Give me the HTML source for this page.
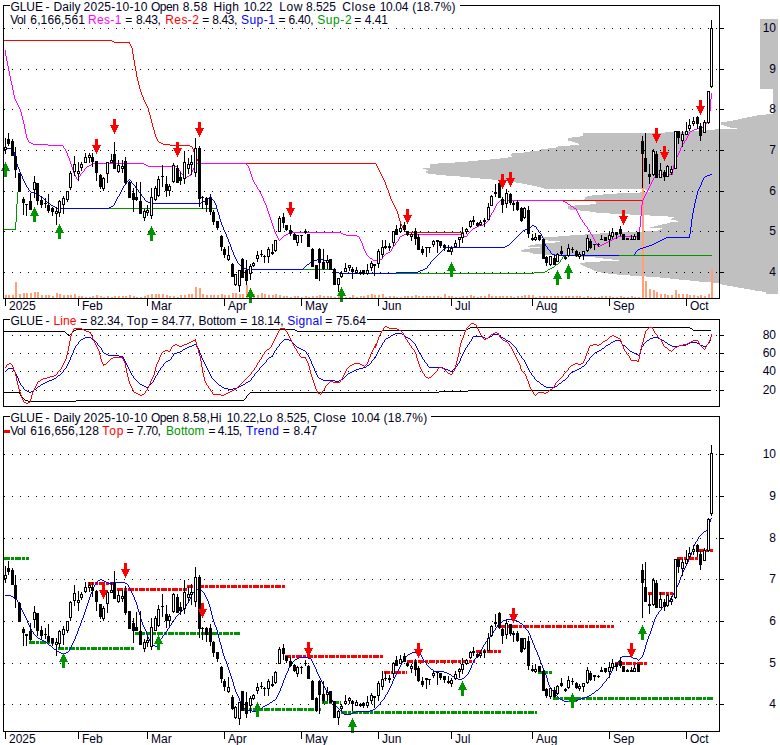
<!DOCTYPE html>
<html><head><meta charset="utf-8"><title>GLUE</title>
<style>html,body{margin:0;padding:0;background:#fff;}body{width:780px;height:745px;overflow:hidden;}svg{display:block;}text{font-family:"Liberation Sans",sans-serif;font-size:12px;fill:#00001c;}</style>
</head><body>
<svg width="780" height="745" viewBox="0 0 780 745">
<rect x="0" y="0" width="780" height="745" fill="#ffffff"/>
<g shape-rendering="crispEdges" fill="#c0c0c0">
<rect x="760" y="19" width="18" height="70"/>
<rect x="773" y="89" width="5" height="25"/>
<rect x="773" y="113" width="5" height="1"/>
<rect x="766" y="114" width="12" height="1"/>
<rect x="757" y="115" width="21" height="1"/>
<rect x="752" y="116" width="26" height="1"/>
<rect x="747" y="117" width="31" height="1"/>
<rect x="742" y="118" width="36" height="1"/>
<rect x="738" y="119" width="40" height="1"/>
<rect x="733" y="120" width="45" height="1"/>
<rect x="727" y="121" width="51" height="1"/>
<rect x="721" y="122" width="57" height="1"/>
<rect x="721" y="123" width="57" height="1"/>
<rect x="721" y="124" width="57" height="1"/>
<rect x="724" y="125" width="54" height="1"/>
<rect x="727" y="126" width="51" height="1"/>
<rect x="730" y="127" width="48" height="1"/>
<rect x="737" y="128" width="41" height="1"/>
<rect x="715" y="129" width="63" height="1"/>
<rect x="700" y="130" width="78" height="1"/>
<rect x="685" y="131" width="93" height="1"/>
<rect x="665" y="132" width="113" height="1"/>
<rect x="583" y="133" width="195" height="1"/>
<rect x="583" y="134" width="195" height="1"/>
<rect x="583" y="135" width="195" height="1"/>
<rect x="580" y="136" width="198" height="1"/>
<rect x="572" y="137" width="206" height="1"/>
<rect x="568" y="138" width="210" height="1"/>
<rect x="568" y="139" width="210" height="1"/>
<rect x="568" y="140" width="210" height="1"/>
<rect x="572" y="141" width="206" height="1"/>
<rect x="575" y="142" width="203" height="1"/>
<rect x="578" y="143" width="200" height="1"/>
<rect x="579" y="144" width="199" height="1"/>
<rect x="570" y="145" width="208" height="1"/>
<rect x="558" y="146" width="220" height="1"/>
<rect x="556" y="147" width="222" height="1"/>
<rect x="548" y="148" width="230" height="1"/>
<rect x="541" y="149" width="237" height="1"/>
<rect x="539" y="150" width="239" height="1"/>
<rect x="530" y="151" width="248" height="1"/>
<rect x="524" y="152" width="254" height="1"/>
<rect x="512" y="153" width="266" height="1"/>
<rect x="511" y="154" width="267" height="1"/>
<rect x="511" y="155" width="267" height="1"/>
<rect x="512" y="156" width="266" height="1"/>
<rect x="508" y="157" width="270" height="1"/>
<rect x="500" y="158" width="278" height="1"/>
<rect x="490" y="159" width="288" height="1"/>
<rect x="478" y="160" width="300" height="1"/>
<rect x="468" y="161" width="310" height="1"/>
<rect x="455" y="162" width="323" height="1"/>
<rect x="438" y="163" width="340" height="1"/>
<rect x="430" y="164" width="348" height="1"/>
<rect x="430" y="165" width="348" height="1"/>
<rect x="430" y="166" width="348" height="1"/>
<rect x="430" y="167" width="348" height="1"/>
<rect x="423" y="168" width="355" height="1"/>
<rect x="426" y="169" width="352" height="1"/>
<rect x="428" y="170" width="350" height="1"/>
<rect x="426" y="171" width="352" height="1"/>
<rect x="426" y="172" width="352" height="1"/>
<rect x="428" y="173" width="350" height="1"/>
<rect x="436" y="174" width="342" height="1"/>
<rect x="446" y="175" width="332" height="1"/>
<rect x="460" y="176" width="318" height="1"/>
<rect x="470" y="177" width="308" height="1"/>
<rect x="480" y="178" width="298" height="1"/>
<rect x="492" y="179" width="286" height="1"/>
<rect x="499" y="180" width="279" height="1"/>
<rect x="508" y="181" width="270" height="1"/>
<rect x="516" y="182" width="262" height="1"/>
<rect x="522" y="183" width="256" height="1"/>
<rect x="527" y="184" width="251" height="1"/>
<rect x="532" y="185" width="246" height="1"/>
<rect x="537" y="186" width="241" height="1"/>
<rect x="541" y="187" width="237" height="1"/>
<rect x="544" y="188" width="234" height="1"/>
<rect x="645" y="189" width="133" height="1"/>
<rect x="648" y="190" width="130" height="1"/>
<rect x="650" y="191" width="128" height="1"/>
<rect x="640" y="192" width="138" height="1"/>
<rect x="617" y="193" width="161" height="1"/>
<rect x="603" y="194" width="175" height="1"/>
<rect x="592" y="195" width="186" height="1"/>
<rect x="587" y="196" width="191" height="1"/>
<rect x="585" y="197" width="193" height="1"/>
<rect x="585" y="198" width="193" height="1"/>
<rect x="584" y="199" width="194" height="1"/>
<rect x="563" y="200" width="215" height="1"/>
<rect x="595" y="201" width="183" height="1"/>
<rect x="596" y="202" width="182" height="1"/>
<rect x="596" y="203" width="182" height="1"/>
<rect x="590" y="204" width="188" height="1"/>
<rect x="575" y="205" width="203" height="1"/>
<rect x="568" y="206" width="210" height="1"/>
<rect x="568" y="207" width="210" height="1"/>
<rect x="568" y="208" width="210" height="1"/>
<rect x="570" y="209" width="208" height="1"/>
<rect x="580" y="210" width="198" height="1"/>
<rect x="590" y="211" width="188" height="1"/>
<rect x="596" y="212" width="182" height="1"/>
<rect x="610" y="213" width="168" height="1"/>
<rect x="630" y="214" width="148" height="1"/>
<rect x="650" y="215" width="128" height="1"/>
<rect x="668" y="216" width="110" height="1"/>
<rect x="674" y="217" width="104" height="1"/>
<rect x="672" y="218" width="106" height="1"/>
<rect x="671" y="219" width="107" height="1"/>
<rect x="676" y="220" width="102" height="1"/>
<rect x="678" y="221" width="100" height="1"/>
<rect x="670" y="222" width="108" height="1"/>
<rect x="667" y="223" width="111" height="1"/>
<rect x="662" y="224" width="116" height="1"/>
<rect x="658" y="225" width="120" height="1"/>
<rect x="654" y="226" width="124" height="1"/>
<rect x="650" y="227" width="128" height="1"/>
<rect x="662" y="228" width="116" height="1"/>
<rect x="660" y="229" width="118" height="1"/>
<rect x="658" y="230" width="120" height="1"/>
<rect x="642" y="231" width="136" height="1"/>
<rect x="620" y="232" width="158" height="1"/>
<rect x="600" y="233" width="178" height="1"/>
<rect x="585" y="234" width="193" height="1"/>
<rect x="570" y="235" width="208" height="1"/>
<rect x="558" y="236" width="220" height="1"/>
<rect x="541" y="237" width="237" height="1"/>
<rect x="543" y="238" width="235" height="1"/>
<rect x="545" y="239" width="233" height="1"/>
<rect x="548" y="240" width="230" height="1"/>
<rect x="560" y="241" width="218" height="1"/>
<rect x="555" y="242" width="223" height="1"/>
<rect x="545" y="243" width="233" height="1"/>
<rect x="535" y="244" width="243" height="1"/>
<rect x="530" y="245" width="248" height="1"/>
<rect x="528" y="246" width="250" height="1"/>
<rect x="540" y="247" width="238" height="1"/>
<rect x="530" y="248" width="248" height="1"/>
<rect x="524" y="249" width="254" height="1"/>
<rect x="521" y="250" width="257" height="1"/>
<rect x="522" y="251" width="256" height="1"/>
<rect x="530" y="252" width="248" height="1"/>
<rect x="533" y="253" width="245" height="1"/>
<rect x="545" y="254" width="233" height="1"/>
<rect x="555" y="255" width="223" height="1"/>
<rect x="575" y="256" width="203" height="1"/>
<rect x="595" y="257" width="183" height="1"/>
<rect x="603" y="258" width="175" height="1"/>
<rect x="612" y="259" width="166" height="1"/>
<rect x="619" y="260" width="159" height="1"/>
<rect x="600" y="261" width="178" height="1"/>
<rect x="585" y="262" width="193" height="1"/>
<rect x="580" y="263" width="198" height="1"/>
<rect x="581" y="264" width="197" height="1"/>
<rect x="583" y="265" width="195" height="1"/>
<rect x="585" y="266" width="193" height="1"/>
<rect x="587" y="267" width="191" height="1"/>
<rect x="590" y="268" width="188" height="1"/>
<rect x="592" y="269" width="186" height="1"/>
<rect x="594" y="270" width="184" height="1"/>
<rect x="597" y="271" width="181" height="1"/>
<rect x="601" y="272" width="177" height="1"/>
<rect x="608" y="273" width="170" height="1"/>
<rect x="617" y="274" width="161" height="1"/>
<rect x="630" y="275" width="148" height="1"/>
<rect x="646" y="276" width="132" height="1"/>
<rect x="660" y="277" width="118" height="1"/>
<rect x="670" y="278" width="108" height="1"/>
<rect x="679" y="279" width="99" height="1"/>
<rect x="690" y="280" width="88" height="1"/>
<rect x="699" y="281" width="79" height="1"/>
<rect x="711" y="282" width="67" height="1"/>
<rect x="720" y="283" width="58" height="1"/>
<rect x="722" y="284" width="56" height="1"/>
<rect x="727" y="285" width="51" height="1"/>
<rect x="733" y="286" width="45" height="1"/>
<rect x="738" y="287" width="40" height="1"/>
<rect x="744" y="288" width="34" height="1"/>
<rect x="750" y="289" width="28" height="1"/>
<rect x="755" y="290" width="23" height="1"/>
<rect x="762" y="291" width="16" height="1"/>
<rect x="766" y="292" width="12" height="1"/>
<rect x="766" y="293" width="12" height="1"/>
</g>
<line x1="4" y1="28.5" x2="718" y2="28.5" stroke="#000" stroke-width="1" stroke-dasharray="1 7" shape-rendering="crispEdges"/>
<line x1="4" y1="69.5" x2="718" y2="69.5" stroke="#000" stroke-width="1" stroke-dasharray="1 7" shape-rendering="crispEdges"/>
<line x1="4" y1="109.5" x2="718" y2="109.5" stroke="#000" stroke-width="1" stroke-dasharray="1 7" shape-rendering="crispEdges"/>
<line x1="4" y1="150.5" x2="718" y2="150.5" stroke="#000" stroke-width="1" stroke-dasharray="1 7" shape-rendering="crispEdges"/>
<line x1="4" y1="191.5" x2="718" y2="191.5" stroke="#000" stroke-width="1" stroke-dasharray="1 7" shape-rendering="crispEdges"/>
<line x1="4" y1="231.5" x2="718" y2="231.5" stroke="#000" stroke-width="1" stroke-dasharray="1 7" shape-rendering="crispEdges"/>
<line x1="4" y1="272.5" x2="718" y2="272.5" stroke="#000" stroke-width="1" stroke-dasharray="1 7" shape-rendering="crispEdges"/>
<line x1="12" y1="335.5" x2="718" y2="335.5" stroke="#000" stroke-width="1" stroke-dasharray="1 7" shape-rendering="crispEdges"/>
<line x1="12" y1="353.5" x2="718" y2="353.5" stroke="#000" stroke-width="1" stroke-dasharray="1 7" shape-rendering="crispEdges"/>
<line x1="12" y1="371.5" x2="718" y2="371.5" stroke="#000" stroke-width="1" stroke-dasharray="1 7" shape-rendering="crispEdges"/>
<line x1="12" y1="390.5" x2="718" y2="390.5" stroke="#000" stroke-width="1" stroke-dasharray="1 7" shape-rendering="crispEdges"/>
<line x1="4" y1="454.5" x2="718" y2="454.5" stroke="#000" stroke-width="1" stroke-dasharray="1 7" shape-rendering="crispEdges"/>
<line x1="4" y1="496.5" x2="718" y2="496.5" stroke="#000" stroke-width="1" stroke-dasharray="1 7" shape-rendering="crispEdges"/>
<line x1="4" y1="538.5" x2="718" y2="538.5" stroke="#000" stroke-width="1" stroke-dasharray="1 7" shape-rendering="crispEdges"/>
<line x1="4" y1="579.5" x2="718" y2="579.5" stroke="#000" stroke-width="1" stroke-dasharray="1 7" shape-rendering="crispEdges"/>
<line x1="4" y1="621.5" x2="718" y2="621.5" stroke="#000" stroke-width="1" stroke-dasharray="1 7" shape-rendering="crispEdges"/>
<line x1="4" y1="663.5" x2="718" y2="663.5" stroke="#000" stroke-width="1" stroke-dasharray="1 7" shape-rendering="crispEdges"/>
<line x1="4" y1="704.5" x2="718" y2="704.5" stroke="#000" stroke-width="1" stroke-dasharray="1 7" shape-rendering="crispEdges"/>
<g shape-rendering="crispEdges" fill="#ffa07a">
<rect x="5" y="295" width="2" height="3"/>
<rect x="8" y="295" width="2" height="3"/>
<rect x="12" y="295" width="2" height="3"/>
<rect x="15" y="282" width="2" height="16"/>
<rect x="19" y="294" width="2" height="4"/>
<rect x="23" y="293" width="2" height="5"/>
<rect x="26" y="293" width="2" height="5"/>
<rect x="30" y="293" width="2" height="5"/>
<rect x="34" y="292" width="2" height="6"/>
<rect x="37" y="292" width="2" height="6"/>
<rect x="41" y="295" width="2" height="3"/>
<rect x="45" y="295" width="2" height="3"/>
<rect x="48" y="295" width="2" height="3"/>
<rect x="52" y="296" width="2" height="2"/>
<rect x="56" y="293" width="2" height="5"/>
<rect x="59" y="294" width="2" height="4"/>
<rect x="63" y="295" width="2" height="3"/>
<rect x="67" y="295" width="2" height="3"/>
<rect x="70" y="295" width="2" height="3"/>
<rect x="74" y="294" width="2" height="4"/>
<rect x="78" y="296" width="2" height="2"/>
<rect x="81" y="296" width="2" height="2"/>
<rect x="85" y="297" width="2" height="1"/>
<rect x="89" y="297" width="2" height="1"/>
<rect x="92" y="296" width="2" height="2"/>
<rect x="96" y="295" width="2" height="3"/>
<rect x="100" y="296" width="2" height="2"/>
<rect x="103" y="297" width="2" height="1"/>
<rect x="107" y="296" width="2" height="2"/>
<rect x="111" y="297" width="2" height="1"/>
<rect x="114" y="296" width="2" height="2"/>
<rect x="118" y="296" width="2" height="2"/>
<rect x="122" y="296" width="2" height="2"/>
<rect x="125" y="296" width="2" height="2"/>
<rect x="129" y="295" width="2" height="3"/>
<rect x="133" y="296" width="2" height="2"/>
<rect x="136" y="297" width="2" height="1"/>
<rect x="140" y="297" width="2" height="1"/>
<rect x="144" y="296" width="2" height="2"/>
<rect x="147" y="295" width="2" height="3"/>
<rect x="151" y="294" width="2" height="4"/>
<rect x="155" y="294" width="2" height="4"/>
<rect x="158" y="294" width="2" height="4"/>
<rect x="162" y="294" width="2" height="4"/>
<rect x="166" y="295" width="2" height="3"/>
<rect x="169" y="296" width="2" height="2"/>
<rect x="173" y="296" width="2" height="2"/>
<rect x="177" y="297" width="2" height="1"/>
<rect x="180" y="295" width="2" height="3"/>
<rect x="184" y="295" width="2" height="3"/>
<rect x="188" y="294" width="2" height="4"/>
<rect x="191" y="294" width="2" height="4"/>
<rect x="195" y="287" width="2" height="11"/>
<rect x="199" y="288" width="2" height="10"/>
<rect x="202" y="294" width="2" height="4"/>
<rect x="206" y="295" width="2" height="3"/>
<rect x="210" y="295" width="2" height="3"/>
<rect x="213" y="295" width="2" height="3"/>
<rect x="217" y="295" width="2" height="3"/>
<rect x="221" y="294" width="2" height="4"/>
<rect x="224" y="295" width="2" height="3"/>
<rect x="228" y="295" width="2" height="3"/>
<rect x="232" y="293" width="2" height="5"/>
<rect x="235" y="293" width="2" height="5"/>
<rect x="239" y="294" width="2" height="4"/>
<rect x="242" y="294" width="2" height="4"/>
<rect x="246" y="285" width="2" height="13"/>
<rect x="250" y="293" width="2" height="5"/>
<rect x="253" y="294" width="2" height="4"/>
<rect x="257" y="295" width="2" height="3"/>
<rect x="261" y="293" width="2" height="5"/>
<rect x="264" y="294" width="2" height="4"/>
<rect x="268" y="295" width="2" height="3"/>
<rect x="272" y="295" width="2" height="3"/>
<rect x="275" y="294" width="2" height="4"/>
<rect x="279" y="295" width="2" height="3"/>
<rect x="283" y="296" width="2" height="2"/>
<rect x="286" y="296" width="2" height="2"/>
<rect x="290" y="297" width="2" height="1"/>
<rect x="294" y="296" width="2" height="2"/>
<rect x="297" y="296" width="2" height="2"/>
<rect x="301" y="297" width="2" height="1"/>
<rect x="305" y="296" width="2" height="2"/>
<rect x="308" y="297" width="2" height="1"/>
<rect x="312" y="296" width="2" height="2"/>
<rect x="316" y="296" width="2" height="2"/>
<rect x="319" y="295" width="2" height="3"/>
<rect x="323" y="296" width="2" height="2"/>
<rect x="327" y="296" width="2" height="2"/>
<rect x="330" y="296" width="2" height="2"/>
<rect x="334" y="297" width="2" height="1"/>
<rect x="338" y="296" width="2" height="2"/>
<rect x="341" y="296" width="2" height="2"/>
<rect x="345" y="297" width="2" height="1"/>
<rect x="349" y="297" width="2" height="1"/>
<rect x="352" y="295" width="2" height="3"/>
<rect x="356" y="297" width="2" height="1"/>
<rect x="360" y="296" width="2" height="2"/>
<rect x="363" y="296" width="2" height="2"/>
<rect x="367" y="295" width="2" height="3"/>
<rect x="371" y="294" width="2" height="4"/>
<rect x="374" y="295" width="2" height="3"/>
<rect x="378" y="295" width="2" height="3"/>
<rect x="382" y="294" width="2" height="4"/>
<rect x="385" y="297" width="2" height="1"/>
<rect x="389" y="296" width="2" height="2"/>
<rect x="393" y="296" width="2" height="2"/>
<rect x="396" y="297" width="2" height="1"/>
<rect x="400" y="297" width="2" height="1"/>
<rect x="404" y="296" width="2" height="2"/>
<rect x="407" y="296" width="2" height="2"/>
<rect x="411" y="296" width="2" height="2"/>
<rect x="415" y="295" width="2" height="3"/>
<rect x="418" y="296" width="2" height="2"/>
<rect x="422" y="296" width="2" height="2"/>
<rect x="426" y="296" width="2" height="2"/>
<rect x="429" y="296" width="2" height="2"/>
<rect x="433" y="296" width="2" height="2"/>
<rect x="437" y="296" width="2" height="2"/>
<rect x="440" y="297" width="2" height="1"/>
<rect x="444" y="294" width="2" height="4"/>
<rect x="448" y="296" width="2" height="2"/>
<rect x="451" y="296" width="2" height="2"/>
<rect x="455" y="297" width="2" height="1"/>
<rect x="459" y="297" width="2" height="1"/>
<rect x="462" y="296" width="2" height="2"/>
<rect x="466" y="296" width="2" height="2"/>
<rect x="470" y="295" width="2" height="3"/>
<rect x="473" y="296" width="2" height="2"/>
<rect x="477" y="297" width="2" height="1"/>
<rect x="480" y="296" width="2" height="2"/>
<rect x="484" y="296" width="2" height="2"/>
<rect x="488" y="294" width="2" height="4"/>
<rect x="491" y="296" width="2" height="2"/>
<rect x="495" y="296" width="2" height="2"/>
<rect x="499" y="296" width="2" height="2"/>
<rect x="502" y="296" width="2" height="2"/>
<rect x="506" y="296" width="2" height="2"/>
<rect x="510" y="296" width="2" height="2"/>
<rect x="513" y="297" width="2" height="1"/>
<rect x="517" y="296" width="2" height="2"/>
<rect x="521" y="296" width="2" height="2"/>
<rect x="524" y="295" width="2" height="3"/>
<rect x="528" y="295" width="2" height="3"/>
<rect x="532" y="295" width="2" height="3"/>
<rect x="535" y="297" width="2" height="1"/>
<rect x="539" y="296" width="2" height="2"/>
<rect x="543" y="296" width="2" height="2"/>
<rect x="546" y="296" width="2" height="2"/>
<rect x="550" y="296" width="2" height="2"/>
<rect x="554" y="296" width="2" height="2"/>
<rect x="557" y="296" width="2" height="2"/>
<rect x="561" y="296" width="2" height="2"/>
<rect x="565" y="296" width="2" height="2"/>
<rect x="568" y="296" width="2" height="2"/>
<rect x="572" y="296" width="2" height="2"/>
<rect x="576" y="296" width="2" height="2"/>
<rect x="579" y="296" width="2" height="2"/>
<rect x="583" y="297" width="2" height="1"/>
<rect x="587" y="296" width="2" height="2"/>
<rect x="590" y="297" width="2" height="1"/>
<rect x="594" y="297" width="2" height="1"/>
<rect x="598" y="297" width="2" height="1"/>
<rect x="601" y="296" width="2" height="2"/>
<rect x="605" y="296" width="2" height="2"/>
<rect x="609" y="296" width="2" height="2"/>
<rect x="612" y="297" width="2" height="1"/>
<rect x="616" y="297" width="2" height="1"/>
<rect x="620" y="296" width="2" height="2"/>
<rect x="623" y="297" width="2" height="1"/>
<rect x="627" y="297" width="2" height="1"/>
<rect x="631" y="296" width="2" height="2"/>
<rect x="634" y="297" width="2" height="1"/>
<rect x="638" y="297" width="2" height="1"/>
<rect x="642" y="151" width="2" height="147"/>
<rect x="645" y="281" width="2" height="17"/>
<rect x="649" y="289" width="2" height="9"/>
<rect x="653" y="290" width="2" height="8"/>
<rect x="656" y="292" width="2" height="6"/>
<rect x="660" y="294" width="2" height="4"/>
<rect x="664" y="294" width="2" height="4"/>
<rect x="667" y="295" width="2" height="3"/>
<rect x="671" y="295" width="2" height="3"/>
<rect x="675" y="290" width="2" height="8"/>
<rect x="678" y="294" width="2" height="4"/>
<rect x="682" y="294" width="2" height="4"/>
<rect x="686" y="294" width="2" height="4"/>
<rect x="689" y="295" width="2" height="3"/>
<rect x="693" y="295" width="2" height="3"/>
<rect x="697" y="296" width="2" height="2"/>
<rect x="700" y="295" width="2" height="3"/>
<rect x="704" y="296" width="2" height="2"/>
<rect x="708" y="294" width="2" height="4"/>
<rect x="711" y="269" width="2" height="29"/>
</g>
<path d="M4 229h12v1h-12zM16 204h1v18h-1zM15 222h1v7h-1zM17 192h1v12h-1zM18 190h1v2h-1z" fill="#009400" shape-rendering="crispEdges"/>
<path d="M60 208h156v1h-156z" fill="#009400" shape-rendering="crispEdges"/>
<path d="M565 255h147v1h-147zM339 273h195v1h-195zM300 269h34v1h-34zM548 269h2v1h-2zM545 271h2v1h-2zM550 268h2v1h-2zM336 272h3v1h-3zM534 272h11v1h-11zM556 264h2v1h-2zM552 267h2v1h-2zM563 256h2v1h-2zM547 270h1v1h-1zM560 260h1v2h-1zM562 257h1v2h-1zM334 270h1v1h-1zM558 263h1v1h-1zM335 271h1v1h-1zM555 265h1v1h-1zM554 266h1v1h-1zM559 262h1v1h-1zM561 259h1v1h-1z" fill="#009400" shape-rendering="crispEdges"/>
<path d="M159 142h2v1h-2zM199 163h177v1h-177zM408 232h56v1h-56zM4 40h108v1h-108zM114 42h16v1h-16zM170 145h20v1h-20zM163 144h7v1h-7zM112 41h2v1h-2zM405 231h3v1h-3zM161 143h2v1h-2zM190 146h2v1h-2zM129 43h1v1h-1zM402 226h1v2h-1zM133 54h1v6h-1zM197 159h1v2h-1zM132 48h1v6h-1zM143 97h1v3h-1zM140 89h1v3h-1zM400 221h1v3h-1zM195 155h1v2h-1zM384 180h1v2h-1zM130 44h1v2h-1zM149 112h1v3h-1zM134 60h1v6h-1zM386 185h1v3h-1zM392 201h1v2h-1zM192 147h1v2h-1zM135 66h1v5h-1zM153 127h1v3h-1zM398 214h1v4h-1zM395 207h1v2h-1zM150 115h1v4h-1zM377 166h1v2h-1zM136 71h1v6h-1zM198 161h1v2h-1zM393 203h1v2h-1zM139 85h1v4h-1zM131 46h1v2h-1zM193 149h1v3h-1zM147 106h1v2h-1zM157 139h1v2h-1zM154 130h1v4h-1zM152 123h1v4h-1zM378 168h1v2h-1zM196 157h1v2h-1zM390 196h1v3h-1zM148 108h1v4h-1zM145 102h1v2h-1zM155 134h1v3h-1zM382 176h1v2h-1zM394 205h1v2h-1zM385 182h1v3h-1zM138 81h1v4h-1zM376 164h1v2h-1zM380 172h1v2h-1zM146 104h1v2h-1zM194 152h1v3h-1zM383 178h1v2h-1zM389 193h1v3h-1zM141 92h1v3h-1zM391 199h1v2h-1zM403 228h1v2h-1zM151 119h1v4h-1zM401 224h1v2h-1zM404 230h1v1h-1zM387 188h1v2h-1zM399 218h1v3h-1zM156 137h1v2h-1zM396 209h1v2h-1zM137 77h1v4h-1zM142 95h1v2h-1zM144 100h1v2h-1zM381 174h1v2h-1zM388 190h1v3h-1zM397 211h1v3h-1zM379 170h1v2h-1zM158 141h1v1h-1z" fill="#ff0000" shape-rendering="crispEdges"/>
<path d="M563 200h80v1h-80z" fill="#ff0000" shape-rendering="crispEdges"/>
<path d="M41 197h2v1h-2zM246 269h57v1h-57zM423 269h2v1h-2zM339 273h57v1h-57zM555 255h64v1h-64zM446 247h59v1h-59zM150 203h51v1h-51zM146 201h2v1h-2zM203 201h2v1h-2zM57 208h52v1h-52zM532 225h2v1h-2zM311 261h2v1h-2zM326 261h2v1h-2zM418 271h2v1h-2zM37 194h2v1h-2zM317 259h6v1h-6zM47 202h2v1h-2zM148 202h2v1h-2zM201 202h2v1h-2zM307 264h2v1h-2zM529 227h2v1h-2zM336 272h3v1h-3zM396 272h22v1h-22zM333 270h2v1h-2zM420 270h3v1h-3zM207 198h2v1h-2zM31 192h3v1h-3zM243 268h3v1h-3zM425 268h2v1h-2zM313 260h4v1h-4zM323 260h3v1h-3zM55 207h2v1h-2zM109 207h2v1h-2zM34 193h3v1h-3zM505 246h2v1h-2zM53 206h2v1h-2zM111 206h2v1h-2zM552 254h3v1h-3zM444 248h2v1h-2zM4 148h9v1h-9zM51 205h2v1h-2zM527 228h2v1h-2zM534 226h2v1h-2zM523 230h2v1h-2zM507 245h2v1h-2zM525 229h2v1h-2zM540 233h1v1h-1zM120 192h1v2h-1zM547 247h1v2h-1zM143 197h1v1h-1zM15 156h1v4h-1zM210 196h1v1h-1zM241 266h1v1h-1zM27 187h1v1h-1zM427 266h1v2h-1zM541 234h1v2h-1zM205 200h1v1h-1zM225 232h1v2h-1zM46 201h1v1h-1zM237 261h1v2h-1zM211 197h1v2h-1zM21 174h1v2h-1zM23 179h1v2h-1zM40 196h1v1h-1zM231 247h1v3h-1zM238 263h1v1h-1zM135 186h1v2h-1zM439 253h1v1h-1zM216 205h1v4h-1zM126 182h1v2h-1zM144 198h1v2h-1zM28 188h1v2h-1zM531 226h1v1h-1zM517 236h1v1h-1zM131 181h1v2h-1zM116 199h1v2h-1zM14 152h1v4h-1zM122 188h1v2h-1zM437 255h1v1h-1zM123 186h1v2h-1zM544 240h1v4h-1zM121 190h1v2h-1zM221 222h1v3h-1zM234 255h1v2h-1zM538 230h1v2h-1zM223 227h1v3h-1zM330 265h1v2h-1zM515 238h1v1h-1zM115 201h1v2h-1zM235 257h1v2h-1zM220 219h1v3h-1zM141 194h1v2h-1zM19 169h1v3h-1zM16 160h1v4h-1zM218 212h1v3h-1zM545 244h1v2h-1zM542 236h1v2h-1zM546 246h1v1h-1zM49 203h1v1h-1zM114 203h1v2h-1zM230 244h1v3h-1zM133 184h1v1h-1zM232 250h1v2h-1zM119 194h1v2h-1zM142 196h1v1h-1zM304 267h1v1h-1zM513 240h1v1h-1zM117 197h1v2h-1zM219 215h1v4h-1zM305 266h1v1h-1zM433 259h1v1h-1zM214 201h1v2h-1zM20 172h1v2h-1zM209 197h1v1h-1zM511 242h1v1h-1zM303 268h1v1h-1zM26 185h1v2h-1zM429 264h1v1h-1zM431 261h1v1h-1zM430 262h1v2h-1zM224 230h1v2h-1zM13 150h1v2h-1zM242 267h1v1h-1zM236 259h1v2h-1zM134 185h1v1h-1zM536 227h1v2h-1zM226 234h1v3h-1zM217 209h1v3h-1zM228 239h1v3h-1zM428 265h1v1h-1zM30 191h1v1h-1zM331 267h1v2h-1zM24 181h1v2h-1zM215 203h1v2h-1zM332 269h1v1h-1zM139 192h1v1h-1zM124 185h1v1h-1zM125 184h1v1h-1zM127 181h1v1h-1zM537 229h1v1h-1zM222 225h1v2h-1zM329 263h1v2h-1zM140 193h1v1h-1zM18 167h1v2h-1zM514 239h1v1h-1zM521 232h1v1h-1zM22 176h1v3h-1zM434 258h1v1h-1zM543 238h1v2h-1zM442 250h1v1h-1zM512 241h1v1h-1zM229 242h1v2h-1zM309 263h1v1h-1zM519 234h1v1h-1zM520 233h1v1h-1zM432 260h1v1h-1zM50 204h1v1h-1zM440 252h1v1h-1zM43 198h1v1h-1zM25 183h1v2h-1zM550 251h1v2h-1zM233 252h1v3h-1zM113 205h1v1h-1zM17 164h1v3h-1zM129 179h1v1h-1zM138 190h1v2h-1zM12 149h1v1h-1zM509 244h1v1h-1zM44 199h1v1h-1zM227 237h1v2h-1zM128 180h1v1h-1zM551 253h1v1h-1zM328 262h1v1h-1zM130 180h1v1h-1zM118 196h1v1h-1zM206 199h1v1h-1zM522 231h1v1h-1zM443 249h1v1h-1zM548 249h1v1h-1zM441 251h1v1h-1zM212 199h1v1h-1zM136 188h1v1h-1zM145 200h1v1h-1zM29 190h1v1h-1zM549 250h1v1h-1zM510 243h1v1h-1zM518 235h1v1h-1zM213 200h1v1h-1zM438 254h1v1h-1zM335 271h1v1h-1zM239 264h1v1h-1zM137 189h1v1h-1zM516 237h1v1h-1zM436 256h1v1h-1zM240 265h1v1h-1zM306 265h1v1h-1zM45 200h1v1h-1zM132 183h1v1h-1zM435 257h1v1h-1zM539 232h1v1h-1zM310 262h1v1h-1zM39 195h1v1h-1z" fill="#0000ff" shape-rendering="crispEdges"/>
<path d="M707 175h3v1h-3zM666 237h24v1h-24zM705 176h2v1h-2zM652 244h2v1h-2zM710 174h2v1h-2zM643 247h3v1h-3zM646 246h3v1h-3zM654 243h2v1h-2zM664 238h2v1h-2zM662 239h2v1h-2zM638 249h2v1h-2zM640 248h3v1h-3zM649 245h3v1h-3zM658 241h2v1h-2zM660 240h2v1h-2zM656 242h2v1h-2zM696 195h1v4h-1zM691 219h1v8h-1zM695 199h1v4h-1zM689 234h1v3h-1zM690 227h1v7h-1zM693 208h1v5h-1zM697 191h1v4h-1zM694 203h1v5h-1zM692 213h1v6h-1zM701 182h1v3h-1zM635 252h1v2h-1zM637 250h1v1h-1zM636 251h1v1h-1zM702 180h1v2h-1zM699 187h1v2h-1zM698 189h1v2h-1zM634 254h1v1h-1zM703 178h1v2h-1zM700 185h1v2h-1zM704 177h1v1h-1z" fill="#0000ff" shape-rendering="crispEdges"/>
<path d="M288 233h2v1h-2zM341 233h2v1h-2zM614 238h2v1h-2zM93 163h51v1h-51zM196 163h50v1h-50zM286 234h2v1h-2zM343 234h3v1h-3zM404 234h58v1h-58zM616 237h2v1h-2zM290 232h51v1h-51zM500 200h63v1h-63zM91 164h2v1h-2zM144 164h2v1h-2zM33 144h15v1h-15zM189 175h2v1h-2zM87 166h2v1h-2zM148 166h29v1h-29zM568 204h2v1h-2zM48 145h15v1h-15zM697 128h5v1h-5zM357 236h2v1h-2zM400 236h2v1h-2zM464 236h3v1h-3zM618 236h21v1h-21zM373 260h6v1h-6zM483 224h2v1h-2zM388 252h2v1h-2zM657 174h16v1h-16zM284 235h2v1h-2zM346 235h11v1h-11zM402 235h2v1h-2zM462 235h2v1h-2zM612 239h2v1h-2zM574 208h2v1h-2zM608 241h2v1h-2zM694 129h3v1h-3zM571 206h2v1h-2zM690 131h2v1h-2zM602 244h2v1h-2zM89 165h2v1h-2zM146 165h2v1h-2zM477 226h2v1h-2zM187 176h2v1h-2zM604 243h2v1h-2zM565 202h2v1h-2zM473 228h2v1h-2zM29 142h2v1h-2zM563 201h2v1h-2zM479 225h4v1h-4zM31 143h2v1h-2zM386 253h2v1h-2zM379 259h3v1h-3zM600 245h2v1h-2zM692 130h2v1h-2zM606 242h2v1h-2zM610 240h2v1h-2zM185 177h2v1h-2zM475 227h2v1h-2zM370 258h2v1h-2zM598 246h2v1h-2zM23 120h1v4h-1zM583 222h1v1h-1zM281 238h1v1h-1zM16 101h1v2h-1zM639 227h1v7h-1zM271 220h1v3h-1zM9 71h1v5h-1zM576 209h1v2h-1zM6 56h1v5h-1zM472 229h1v1h-1zM246 164h1v1h-1zM675 160h1v2h-1zM656 175h1v1h-1zM640 216h1v11h-1zM256 185h1v2h-1zM496 204h1v2h-1zM391 249h1v2h-1zM177 167h1v2h-1zM257 187h1v2h-1zM680 148h1v3h-1zM260 192h1v2h-1zM648 188h1v2h-1zM13 90h1v5h-1zM384 255h1v1h-1zM364 249h1v2h-1zM253 180h1v2h-1zM674 162h1v3h-1zM192 170h1v2h-1zM274 229h1v3h-1zM70 161h1v3h-1zM578 213h1v2h-1zM26 134h1v4h-1zM495 206h1v2h-1zM267 208h1v3h-1zM19 107h1v2h-1zM487 221h1v1h-1zM676 157h1v3h-1zM579 215h1v2h-1zM12 85h1v5h-1zM82 172h1v1h-1zM711 93h1v6h-1zM582 220h1v2h-1zM249 168h1v3h-1zM270 217h1v3h-1zM191 172h1v2h-1zM5 50h1v6h-1zM74 173h1v2h-1zM263 198h1v3h-1zM491 213h1v2h-1zM710 99h1v12h-1zM570 205h1v1h-1zM368 256h1v1h-1zM181 173h1v1h-1zM707 121h1v1h-1zM467 234h1v2h-1zM596 243h1v2h-1zM85 168h1v1h-1zM577 211h1v2h-1zM15 99h1v2h-1zM18 105h1v2h-1zM8 66h1v5h-1zM652 180h1v2h-1zM11 81h1v4h-1zM390 251h1v1h-1zM586 226h1v1h-1zM248 166h1v2h-1zM399 237h1v2h-1zM643 198h1v2h-1zM259 190h1v2h-1zM73 170h1v3h-1zM262 196h1v2h-1zM25 129h1v5h-1zM22 116h1v4h-1zM682 144h1v2h-1zM180 171h1v2h-1zM255 184h1v1h-1zM494 208h1v2h-1zM252 177h1v3h-1zM28 140h1v2h-1zM642 200h1v5h-1zM273 226h1v3h-1zM266 205h1v3h-1zM581 219h1v1h-1zM195 164h1v2h-1zM584 223h1v2h-1zM498 202h1v1h-1zM647 190h1v2h-1zM702 127h1v1h-1zM14 95h1v4h-1zM585 225h1v1h-1zM490 215h1v2h-1zM471 230h1v1h-1zM641 205h1v11h-1zM67 153h1v3h-1zM673 165h1v5h-1zM567 203h1v1h-1zM709 111h1v8h-1zM21 112h1v4h-1zM269 214h1v3h-1zM179 170h1v1h-1zM363 246h1v3h-1zM7 61h1v5h-1zM595 241h1v2h-1zM398 239h1v2h-1zM580 217h1v2h-1zM689 132h1v2h-1zM69 158h1v3h-1zM655 176h1v1h-1zM592 235h1v2h-1zM360 239h1v2h-1zM685 140h1v1h-1zM653 178h1v2h-1zM194 166h1v2h-1zM646 192h1v2h-1zM251 174h1v3h-1zM681 146h1v2h-1zM594 239h1v2h-1zM280 239h1v1h-1zM24 124h1v5h-1zM17 103h1v2h-1zM587 227h1v2h-1zM190 174h1v1h-1zM68 156h1v2h-1zM265 203h1v2h-1zM247 165h1v1h-1zM588 229h1v1h-1zM393 246h1v1h-1zM672 170h1v4h-1zM72 167h1v3h-1zM84 169h1v2h-1zM704 125h1v1h-1zM182 174h1v1h-1zM27 138h1v2h-1zM79 176h1v1h-1zM10 76h1v5h-1zM590 232h1v2h-1zM362 243h1v3h-1zM591 234h1v1h-1zM272 223h1v3h-1zM684 141h1v2h-1zM396 242h1v1h-1zM493 210h1v2h-1zM688 134h1v2h-1zM268 211h1v3h-1zM489 217h1v2h-1zM597 245h1v1h-1zM264 201h1v2h-1zM679 151h1v2h-1zM193 168h1v2h-1zM250 171h1v3h-1zM645 194h1v2h-1zM282 237h1v1h-1zM65 149h1v2h-1zM78 177h1v2h-1zM366 253h1v2h-1zM71 164h1v3h-1zM20 109h1v3h-1zM392 247h1v2h-1zM593 237h1v2h-1zM361 241h1v2h-1zM395 243h1v2h-1zM589 230h1v2h-1zM687 136h1v2h-1zM468 233h1v1h-1zM383 256h1v1h-1zM703 126h1v1h-1zM278 238h1v2h-1zM651 182h1v2h-1zM64 148h1v1h-1zM365 251h1v2h-1zM706 122h1v2h-1zM638 234h1v2h-1zM86 167h1v1h-1zM63 146h1v2h-1zM486 222h1v1h-1zM678 153h1v2h-1zM277 236h1v2h-1zM81 173h1v1h-1zM683 143h1v1h-1zM686 138h1v2h-1zM184 176h1v1h-1zM66 151h1v2h-1zM183 175h1v1h-1zM573 207h1v1h-1zM382 257h1v2h-1zM385 254h1v1h-1zM650 184h1v2h-1zM359 237h1v2h-1zM76 177h1v2h-1zM77 179h1v1h-1zM80 174h1v2h-1zM394 245h1v1h-1zM470 231h1v1h-1zM367 255h1v1h-1zM497 203h1v1h-1zM654 177h1v1h-1zM705 124h1v1h-1zM677 155h1v2h-1zM276 234h1v2h-1zM279 240h1v1h-1zM397 241h1v1h-1zM649 186h1v2h-1zM708 119h1v2h-1zM488 219h1v2h-1zM83 171h1v1h-1zM75 175h1v2h-1zM261 194h1v2h-1zM254 182h1v2h-1zM485 223h1v1h-1zM275 232h1v2h-1zM644 196h1v2h-1zM258 189h1v1h-1zM492 212h1v1h-1zM499 201h1v1h-1zM178 169h1v1h-1zM469 232h1v1h-1zM283 236h1v1h-1zM369 257h1v1h-1zM372 259h1v1h-1z" fill="#ff00ff" shape-rendering="crispEdges"/>
<g shape-rendering="crispEdges">
<rect x="5" y="138" width="1" height="16" fill="#000"/>
<rect x="4" y="147" width="3" height="3" fill="#000"/>
<rect x="5" y="148" width="1" height="1" fill="#fff"/>
<rect x="8" y="133" width="1" height="13" fill="#000"/>
<rect x="7" y="139" width="3" height="5" fill="#000"/>
<rect x="12" y="139" width="1" height="17" fill="#000"/>
<rect x="11" y="141" width="3" height="15" fill="#000"/>
<rect x="15" y="147" width="1" height="31" fill="#000"/>
<rect x="14" y="156" width="3" height="14" fill="#000"/>
<rect x="19" y="173" width="1" height="19" fill="#000"/>
<rect x="18" y="173" width="3" height="19" fill="#000"/>
<rect x="23" y="197" width="1" height="18" fill="#000"/>
<rect x="22" y="199" width="3" height="4" fill="#000"/>
<rect x="26" y="204" width="1" height="12" fill="#000"/>
<rect x="25" y="204" width="3" height="1" fill="#000"/>
<rect x="30" y="193" width="1" height="17" fill="#000"/>
<rect x="29" y="201" width="3" height="9" fill="#000"/>
<rect x="34" y="176" width="1" height="22" fill="#000"/>
<rect x="33" y="182" width="3" height="8" fill="#000"/>
<rect x="34" y="183" width="1" height="6" fill="#fff"/>
<rect x="37" y="183" width="1" height="22" fill="#000"/>
<rect x="36" y="183" width="3" height="18" fill="#000"/>
<rect x="41" y="196" width="1" height="12" fill="#000"/>
<rect x="40" y="200" width="3" height="5" fill="#000"/>
<rect x="45" y="198" width="1" height="10" fill="#000"/>
<rect x="44" y="203" width="3" height="1" fill="#000"/>
<rect x="48" y="194" width="1" height="19" fill="#000"/>
<rect x="47" y="205" width="3" height="6" fill="#000"/>
<rect x="52" y="207" width="1" height="9" fill="#000"/>
<rect x="51" y="208" width="3" height="4" fill="#000"/>
<rect x="56" y="207" width="1" height="18" fill="#000"/>
<rect x="55" y="211" width="3" height="3" fill="#000"/>
<rect x="56" y="212" width="1" height="1" fill="#fff"/>
<rect x="59" y="200" width="1" height="17" fill="#000"/>
<rect x="58" y="201" width="3" height="12" fill="#000"/>
<rect x="59" y="202" width="1" height="10" fill="#fff"/>
<rect x="63" y="196" width="1" height="18" fill="#000"/>
<rect x="62" y="198" width="3" height="7" fill="#000"/>
<rect x="63" y="199" width="1" height="5" fill="#fff"/>
<rect x="67" y="191" width="1" height="11" fill="#000"/>
<rect x="66" y="191" width="3" height="9" fill="#000"/>
<rect x="67" y="192" width="1" height="7" fill="#fff"/>
<rect x="70" y="171" width="1" height="19" fill="#000"/>
<rect x="69" y="173" width="3" height="15" fill="#000"/>
<rect x="70" y="174" width="1" height="13" fill="#fff"/>
<rect x="74" y="156" width="1" height="20" fill="#000"/>
<rect x="73" y="164" width="3" height="8" fill="#000"/>
<rect x="74" y="165" width="1" height="6" fill="#fff"/>
<rect x="78" y="162" width="1" height="19" fill="#000"/>
<rect x="77" y="171" width="3" height="3" fill="#000"/>
<rect x="78" y="172" width="1" height="1" fill="#fff"/>
<rect x="81" y="162" width="1" height="9" fill="#000"/>
<rect x="80" y="164" width="3" height="4" fill="#000"/>
<rect x="81" y="165" width="1" height="2" fill="#fff"/>
<rect x="85" y="153" width="1" height="10" fill="#000"/>
<rect x="84" y="157" width="3" height="6" fill="#000"/>
<rect x="85" y="158" width="1" height="4" fill="#fff"/>
<rect x="89" y="153" width="1" height="10" fill="#000"/>
<rect x="88" y="155" width="3" height="3" fill="#000"/>
<rect x="89" y="156" width="1" height="1" fill="#fff"/>
<rect x="92" y="153" width="1" height="14" fill="#000"/>
<rect x="91" y="157" width="3" height="5" fill="#000"/>
<rect x="96" y="161" width="1" height="20" fill="#000"/>
<rect x="95" y="161" width="3" height="12" fill="#000"/>
<rect x="100" y="174" width="1" height="15" fill="#000"/>
<rect x="99" y="175" width="3" height="12" fill="#000"/>
<rect x="103" y="177" width="1" height="14" fill="#000"/>
<rect x="102" y="178" width="3" height="11" fill="#000"/>
<rect x="103" y="179" width="1" height="9" fill="#fff"/>
<rect x="107" y="162" width="1" height="21" fill="#000"/>
<rect x="106" y="162" width="3" height="12" fill="#000"/>
<rect x="107" y="163" width="1" height="10" fill="#fff"/>
<rect x="111" y="154" width="1" height="9" fill="#000"/>
<rect x="110" y="160" width="3" height="3" fill="#000"/>
<rect x="111" y="161" width="1" height="1" fill="#fff"/>
<rect x="114" y="142" width="1" height="27" fill="#000"/>
<rect x="113" y="154" width="3" height="15" fill="#000"/>
<rect x="118" y="160" width="1" height="13" fill="#000"/>
<rect x="117" y="165" width="3" height="7" fill="#000"/>
<rect x="118" y="166" width="1" height="5" fill="#fff"/>
<rect x="122" y="160" width="1" height="13" fill="#000"/>
<rect x="121" y="166" width="3" height="3" fill="#000"/>
<rect x="122" y="167" width="1" height="1" fill="#fff"/>
<rect x="125" y="157" width="1" height="28" fill="#000"/>
<rect x="124" y="161" width="3" height="22" fill="#000"/>
<rect x="129" y="181" width="1" height="17" fill="#000"/>
<rect x="128" y="182" width="3" height="16" fill="#000"/>
<rect x="133" y="188" width="1" height="24" fill="#000"/>
<rect x="132" y="193" width="3" height="7" fill="#000"/>
<rect x="136" y="182" width="1" height="19" fill="#000"/>
<rect x="135" y="197" width="3" height="3" fill="#000"/>
<rect x="140" y="182" width="1" height="32" fill="#000"/>
<rect x="139" y="201" width="3" height="13" fill="#000"/>
<rect x="144" y="209" width="1" height="12" fill="#000"/>
<rect x="143" y="211" width="3" height="7" fill="#000"/>
<rect x="144" y="212" width="1" height="5" fill="#fff"/>
<rect x="147" y="205" width="1" height="11" fill="#000"/>
<rect x="146" y="210" width="3" height="3" fill="#000"/>
<rect x="147" y="211" width="1" height="1" fill="#fff"/>
<rect x="151" y="188" width="1" height="31" fill="#000"/>
<rect x="150" y="197" width="3" height="19" fill="#000"/>
<rect x="151" y="198" width="1" height="17" fill="#fff"/>
<rect x="155" y="186" width="1" height="15" fill="#000"/>
<rect x="154" y="188" width="3" height="12" fill="#000"/>
<rect x="155" y="189" width="1" height="10" fill="#fff"/>
<rect x="158" y="176" width="1" height="21" fill="#000"/>
<rect x="157" y="179" width="3" height="17" fill="#000"/>
<rect x="158" y="180" width="1" height="15" fill="#fff"/>
<rect x="162" y="165" width="1" height="22" fill="#000"/>
<rect x="161" y="176" width="3" height="1" fill="#000"/>
<rect x="166" y="176" width="1" height="21" fill="#000"/>
<rect x="165" y="184" width="3" height="7" fill="#000"/>
<rect x="169" y="184" width="1" height="12" fill="#000"/>
<rect x="168" y="186" width="3" height="5" fill="#000"/>
<rect x="169" y="187" width="1" height="3" fill="#fff"/>
<rect x="173" y="163" width="1" height="20" fill="#000"/>
<rect x="172" y="165" width="3" height="17" fill="#000"/>
<rect x="173" y="166" width="1" height="15" fill="#fff"/>
<rect x="177" y="165" width="1" height="18" fill="#000"/>
<rect x="176" y="168" width="3" height="15" fill="#000"/>
<rect x="180" y="172" width="1" height="13" fill="#000"/>
<rect x="179" y="177" width="3" height="4" fill="#000"/>
<rect x="184" y="151" width="1" height="33" fill="#000"/>
<rect x="183" y="162" width="3" height="17" fill="#000"/>
<rect x="184" y="163" width="1" height="15" fill="#fff"/>
<rect x="188" y="158" width="1" height="16" fill="#000"/>
<rect x="187" y="164" width="3" height="5" fill="#000"/>
<rect x="188" y="165" width="1" height="3" fill="#fff"/>
<rect x="191" y="155" width="1" height="20" fill="#000"/>
<rect x="190" y="162" width="3" height="3" fill="#000"/>
<rect x="191" y="163" width="1" height="1" fill="#fff"/>
<rect x="195" y="138" width="1" height="39" fill="#000"/>
<rect x="194" y="148" width="3" height="25" fill="#000"/>
<rect x="195" y="149" width="1" height="23" fill="#fff"/>
<rect x="199" y="146" width="1" height="61" fill="#000"/>
<rect x="198" y="148" width="3" height="51" fill="#000"/>
<rect x="202" y="196" width="1" height="13" fill="#000"/>
<rect x="201" y="197" width="3" height="1" fill="#000"/>
<rect x="206" y="197" width="1" height="15" fill="#000"/>
<rect x="205" y="198" width="3" height="7" fill="#000"/>
<rect x="210" y="194" width="1" height="21" fill="#000"/>
<rect x="209" y="198" width="3" height="14" fill="#000"/>
<rect x="213" y="210" width="1" height="15" fill="#000"/>
<rect x="212" y="212" width="3" height="10" fill="#000"/>
<rect x="217" y="221" width="1" height="9" fill="#000"/>
<rect x="216" y="221" width="3" height="7" fill="#000"/>
<rect x="221" y="235" width="1" height="16" fill="#000"/>
<rect x="220" y="236" width="3" height="11" fill="#000"/>
<rect x="224" y="247" width="1" height="11" fill="#000"/>
<rect x="223" y="249" width="3" height="6" fill="#000"/>
<rect x="228" y="246" width="1" height="15" fill="#000"/>
<rect x="227" y="255" width="3" height="5" fill="#000"/>
<rect x="228" y="256" width="1" height="3" fill="#fff"/>
<rect x="232" y="263" width="1" height="14" fill="#000"/>
<rect x="231" y="264" width="3" height="13" fill="#000"/>
<rect x="235" y="274" width="1" height="12" fill="#000"/>
<rect x="234" y="274" width="3" height="11" fill="#000"/>
<rect x="235" y="275" width="1" height="9" fill="#fff"/>
<rect x="239" y="270" width="1" height="22" fill="#000"/>
<rect x="238" y="270" width="3" height="16" fill="#000"/>
<rect x="239" y="271" width="1" height="14" fill="#fff"/>
<rect x="242" y="258" width="1" height="20" fill="#000"/>
<rect x="241" y="259" width="3" height="19" fill="#000"/>
<rect x="246" y="260" width="1" height="25" fill="#000"/>
<rect x="245" y="270" width="3" height="11" fill="#000"/>
<rect x="250" y="264" width="1" height="16" fill="#000"/>
<rect x="249" y="266" width="3" height="8" fill="#000"/>
<rect x="250" y="267" width="1" height="6" fill="#fff"/>
<rect x="253" y="262" width="1" height="5" fill="#000"/>
<rect x="252" y="263" width="3" height="3" fill="#000"/>
<rect x="253" y="264" width="1" height="1" fill="#fff"/>
<rect x="257" y="251" width="1" height="11" fill="#000"/>
<rect x="256" y="255" width="3" height="4" fill="#000"/>
<rect x="257" y="256" width="1" height="2" fill="#fff"/>
<rect x="261" y="250" width="1" height="7" fill="#000"/>
<rect x="260" y="254" width="3" height="1" fill="#000"/>
<rect x="264" y="255" width="1" height="8" fill="#000"/>
<rect x="263" y="256" width="3" height="1" fill="#000"/>
<rect x="268" y="247" width="1" height="16" fill="#000"/>
<rect x="267" y="249" width="3" height="8" fill="#000"/>
<rect x="268" y="250" width="1" height="6" fill="#fff"/>
<rect x="272" y="244" width="1" height="11" fill="#000"/>
<rect x="271" y="252" width="3" height="2" fill="#000"/>
<rect x="275" y="240" width="1" height="12" fill="#000"/>
<rect x="274" y="240" width="3" height="11" fill="#000"/>
<rect x="275" y="241" width="1" height="9" fill="#fff"/>
<rect x="279" y="216" width="1" height="16" fill="#000"/>
<rect x="278" y="218" width="3" height="14" fill="#000"/>
<rect x="279" y="219" width="1" height="12" fill="#fff"/>
<rect x="283" y="213" width="1" height="15" fill="#000"/>
<rect x="282" y="217" width="3" height="6" fill="#000"/>
<rect x="286" y="225" width="1" height="6" fill="#000"/>
<rect x="285" y="225" width="3" height="5" fill="#000"/>
<rect x="290" y="225" width="1" height="11" fill="#000"/>
<rect x="289" y="230" width="3" height="4" fill="#000"/>
<rect x="294" y="233" width="1" height="7" fill="#000"/>
<rect x="293" y="234" width="3" height="6" fill="#000"/>
<rect x="297" y="235" width="1" height="11" fill="#000"/>
<rect x="296" y="235" width="3" height="8" fill="#000"/>
<rect x="297" y="236" width="1" height="6" fill="#fff"/>
<rect x="301" y="235" width="1" height="8" fill="#000"/>
<rect x="300" y="235" width="3" height="1" fill="#000"/>
<rect x="305" y="229" width="1" height="5" fill="#000"/>
<rect x="304" y="231" width="3" height="2" fill="#000"/>
<rect x="308" y="234" width="1" height="13" fill="#000"/>
<rect x="307" y="234" width="3" height="13" fill="#000"/>
<rect x="312" y="248" width="1" height="19" fill="#000"/>
<rect x="311" y="249" width="3" height="18" fill="#000"/>
<rect x="316" y="265" width="1" height="14" fill="#000"/>
<rect x="315" y="265" width="3" height="14" fill="#000"/>
<rect x="319" y="248" width="1" height="33" fill="#000"/>
<rect x="318" y="249" width="3" height="14" fill="#000"/>
<rect x="323" y="249" width="1" height="21" fill="#000"/>
<rect x="322" y="262" width="3" height="7" fill="#000"/>
<rect x="327" y="255" width="1" height="14" fill="#000"/>
<rect x="326" y="260" width="3" height="3" fill="#000"/>
<rect x="327" y="261" width="1" height="1" fill="#fff"/>
<rect x="330" y="259" width="1" height="11" fill="#000"/>
<rect x="329" y="259" width="3" height="11" fill="#000"/>
<rect x="334" y="268" width="1" height="17" fill="#000"/>
<rect x="333" y="269" width="3" height="16" fill="#000"/>
<rect x="338" y="278" width="1" height="14" fill="#000"/>
<rect x="337" y="278" width="3" height="7" fill="#000"/>
<rect x="338" y="279" width="1" height="5" fill="#fff"/>
<rect x="341" y="271" width="1" height="7" fill="#000"/>
<rect x="340" y="273" width="3" height="4" fill="#000"/>
<rect x="341" y="274" width="1" height="2" fill="#fff"/>
<rect x="345" y="263" width="1" height="9" fill="#000"/>
<rect x="344" y="268" width="3" height="4" fill="#000"/>
<rect x="345" y="269" width="1" height="2" fill="#fff"/>
<rect x="349" y="265" width="1" height="6" fill="#000"/>
<rect x="348" y="265" width="3" height="3" fill="#000"/>
<rect x="349" y="266" width="1" height="1" fill="#fff"/>
<rect x="352" y="267" width="1" height="12" fill="#000"/>
<rect x="351" y="269" width="3" height="3" fill="#000"/>
<rect x="356" y="267" width="1" height="7" fill="#000"/>
<rect x="355" y="270" width="3" height="3" fill="#000"/>
<rect x="356" y="271" width="1" height="1" fill="#fff"/>
<rect x="360" y="270" width="1" height="5" fill="#000"/>
<rect x="359" y="272" width="3" height="2" fill="#000"/>
<rect x="363" y="270" width="1" height="5" fill="#000"/>
<rect x="362" y="270" width="3" height="4" fill="#000"/>
<rect x="367" y="264" width="1" height="11" fill="#000"/>
<rect x="366" y="270" width="3" height="4" fill="#000"/>
<rect x="367" y="271" width="1" height="2" fill="#fff"/>
<rect x="371" y="261" width="1" height="10" fill="#000"/>
<rect x="370" y="263" width="3" height="5" fill="#000"/>
<rect x="371" y="264" width="1" height="3" fill="#fff"/>
<rect x="374" y="264" width="1" height="12" fill="#000"/>
<rect x="373" y="264" width="3" height="2" fill="#000"/>
<rect x="378" y="249" width="1" height="19" fill="#000"/>
<rect x="377" y="251" width="3" height="13" fill="#000"/>
<rect x="378" y="252" width="1" height="11" fill="#fff"/>
<rect x="382" y="240" width="1" height="18" fill="#000"/>
<rect x="381" y="247" width="3" height="8" fill="#000"/>
<rect x="382" y="248" width="1" height="6" fill="#fff"/>
<rect x="385" y="240" width="1" height="9" fill="#000"/>
<rect x="384" y="246" width="3" height="2" fill="#000"/>
<rect x="389" y="243" width="1" height="8" fill="#000"/>
<rect x="388" y="246" width="3" height="2" fill="#000"/>
<rect x="393" y="231" width="1" height="15" fill="#000"/>
<rect x="392" y="231" width="3" height="12" fill="#000"/>
<rect x="393" y="232" width="1" height="10" fill="#fff"/>
<rect x="396" y="225" width="1" height="10" fill="#000"/>
<rect x="395" y="229" width="3" height="6" fill="#000"/>
<rect x="400" y="224" width="1" height="9" fill="#000"/>
<rect x="399" y="228" width="3" height="4" fill="#000"/>
<rect x="400" y="229" width="1" height="2" fill="#fff"/>
<rect x="404" y="222" width="1" height="9" fill="#000"/>
<rect x="403" y="225" width="3" height="5" fill="#000"/>
<rect x="407" y="231" width="1" height="5" fill="#000"/>
<rect x="406" y="231" width="3" height="4" fill="#000"/>
<rect x="411" y="233" width="1" height="8" fill="#000"/>
<rect x="410" y="234" width="3" height="3" fill="#000"/>
<rect x="411" y="235" width="1" height="1" fill="#fff"/>
<rect x="415" y="228" width="1" height="17" fill="#000"/>
<rect x="414" y="231" width="3" height="8" fill="#000"/>
<rect x="418" y="234" width="1" height="16" fill="#000"/>
<rect x="417" y="237" width="3" height="13" fill="#000"/>
<rect x="422" y="246" width="1" height="9" fill="#000"/>
<rect x="421" y="249" width="3" height="4" fill="#000"/>
<rect x="426" y="247" width="1" height="10" fill="#000"/>
<rect x="425" y="247" width="3" height="1" fill="#000"/>
<rect x="429" y="247" width="1" height="6" fill="#000"/>
<rect x="428" y="247" width="3" height="1" fill="#000"/>
<rect x="433" y="240" width="1" height="7" fill="#000"/>
<rect x="432" y="241" width="3" height="4" fill="#000"/>
<rect x="433" y="242" width="1" height="2" fill="#fff"/>
<rect x="437" y="240" width="1" height="13" fill="#000"/>
<rect x="436" y="240" width="3" height="2" fill="#000"/>
<rect x="440" y="241" width="1" height="7" fill="#000"/>
<rect x="439" y="241" width="3" height="5" fill="#000"/>
<rect x="444" y="244" width="1" height="7" fill="#000"/>
<rect x="443" y="245" width="3" height="3" fill="#000"/>
<rect x="448" y="245" width="1" height="7" fill="#000"/>
<rect x="447" y="250" width="3" height="2" fill="#000"/>
<rect x="451" y="246" width="1" height="9" fill="#000"/>
<rect x="450" y="248" width="3" height="4" fill="#000"/>
<rect x="451" y="249" width="1" height="2" fill="#fff"/>
<rect x="455" y="240" width="1" height="8" fill="#000"/>
<rect x="454" y="243" width="3" height="4" fill="#000"/>
<rect x="455" y="244" width="1" height="2" fill="#fff"/>
<rect x="459" y="237" width="1" height="10" fill="#000"/>
<rect x="458" y="237" width="3" height="3" fill="#000"/>
<rect x="459" y="238" width="1" height="1" fill="#fff"/>
<rect x="462" y="227" width="1" height="16" fill="#000"/>
<rect x="461" y="233" width="3" height="5" fill="#000"/>
<rect x="462" y="234" width="1" height="3" fill="#fff"/>
<rect x="466" y="228" width="1" height="6" fill="#000"/>
<rect x="465" y="229" width="3" height="3" fill="#000"/>
<rect x="466" y="230" width="1" height="1" fill="#fff"/>
<rect x="470" y="220" width="1" height="8" fill="#000"/>
<rect x="469" y="221" width="3" height="6" fill="#000"/>
<rect x="470" y="222" width="1" height="4" fill="#fff"/>
<rect x="473" y="216" width="1" height="9" fill="#000"/>
<rect x="472" y="220" width="3" height="2" fill="#000"/>
<rect x="477" y="222" width="1" height="5" fill="#000"/>
<rect x="476" y="223" width="3" height="3" fill="#000"/>
<rect x="480" y="220" width="1" height="6" fill="#000"/>
<rect x="479" y="222" width="3" height="3" fill="#000"/>
<rect x="480" y="223" width="1" height="1" fill="#fff"/>
<rect x="484" y="218" width="1" height="9" fill="#000"/>
<rect x="483" y="220" width="3" height="2" fill="#000"/>
<rect x="488" y="203" width="1" height="17" fill="#000"/>
<rect x="487" y="207" width="3" height="13" fill="#000"/>
<rect x="488" y="208" width="1" height="11" fill="#fff"/>
<rect x="491" y="195" width="1" height="11" fill="#000"/>
<rect x="490" y="196" width="3" height="10" fill="#000"/>
<rect x="491" y="197" width="1" height="8" fill="#fff"/>
<rect x="495" y="184" width="1" height="13" fill="#000"/>
<rect x="494" y="192" width="3" height="2" fill="#000"/>
<rect x="499" y="182" width="1" height="16" fill="#000"/>
<rect x="498" y="183" width="3" height="15" fill="#000"/>
<rect x="502" y="197" width="1" height="16" fill="#000"/>
<rect x="501" y="199" width="3" height="6" fill="#000"/>
<rect x="506" y="189" width="1" height="19" fill="#000"/>
<rect x="505" y="193" width="3" height="11" fill="#000"/>
<rect x="506" y="194" width="1" height="9" fill="#fff"/>
<rect x="510" y="193" width="1" height="12" fill="#000"/>
<rect x="509" y="194" width="3" height="9" fill="#000"/>
<rect x="513" y="201" width="1" height="10" fill="#000"/>
<rect x="512" y="203" width="3" height="2" fill="#000"/>
<rect x="517" y="200" width="1" height="11" fill="#000"/>
<rect x="516" y="202" width="3" height="8" fill="#000"/>
<rect x="521" y="207" width="1" height="15" fill="#000"/>
<rect x="520" y="208" width="3" height="13" fill="#000"/>
<rect x="524" y="207" width="1" height="12" fill="#000"/>
<rect x="523" y="208" width="3" height="10" fill="#000"/>
<rect x="524" y="209" width="1" height="8" fill="#fff"/>
<rect x="528" y="206" width="1" height="32" fill="#000"/>
<rect x="527" y="210" width="3" height="24" fill="#000"/>
<rect x="532" y="234" width="1" height="7" fill="#000"/>
<rect x="531" y="238" width="3" height="2" fill="#000"/>
<rect x="535" y="233" width="1" height="8" fill="#000"/>
<rect x="534" y="237" width="3" height="3" fill="#000"/>
<rect x="535" y="238" width="1" height="1" fill="#fff"/>
<rect x="539" y="235" width="1" height="6" fill="#000"/>
<rect x="538" y="235" width="3" height="5" fill="#000"/>
<rect x="543" y="239" width="1" height="20" fill="#000"/>
<rect x="542" y="239" width="3" height="20" fill="#000"/>
<rect x="546" y="256" width="1" height="10" fill="#000"/>
<rect x="545" y="257" width="3" height="6" fill="#000"/>
<rect x="550" y="256" width="1" height="10" fill="#000"/>
<rect x="549" y="256" width="3" height="9" fill="#000"/>
<rect x="550" y="257" width="1" height="7" fill="#fff"/>
<rect x="554" y="255" width="1" height="10" fill="#000"/>
<rect x="553" y="258" width="3" height="7" fill="#000"/>
<rect x="557" y="253" width="1" height="9" fill="#000"/>
<rect x="556" y="254" width="3" height="8" fill="#000"/>
<rect x="557" y="255" width="1" height="6" fill="#fff"/>
<rect x="561" y="246" width="1" height="9" fill="#000"/>
<rect x="560" y="251" width="3" height="3" fill="#000"/>
<rect x="565" y="256" width="1" height="4" fill="#000"/>
<rect x="564" y="257" width="3" height="2" fill="#000"/>
<rect x="568" y="244" width="1" height="13" fill="#000"/>
<rect x="567" y="248" width="3" height="8" fill="#000"/>
<rect x="568" y="249" width="1" height="6" fill="#fff"/>
<rect x="572" y="247" width="1" height="6" fill="#000"/>
<rect x="571" y="249" width="3" height="1" fill="#000"/>
<rect x="576" y="250" width="1" height="7" fill="#000"/>
<rect x="575" y="251" width="3" height="5" fill="#000"/>
<rect x="579" y="252" width="1" height="7" fill="#000"/>
<rect x="578" y="254" width="3" height="3" fill="#000"/>
<rect x="579" y="255" width="1" height="1" fill="#fff"/>
<rect x="583" y="251" width="1" height="9" fill="#000"/>
<rect x="582" y="251" width="3" height="4" fill="#000"/>
<rect x="583" y="252" width="1" height="2" fill="#fff"/>
<rect x="587" y="235" width="1" height="17" fill="#000"/>
<rect x="586" y="238" width="3" height="13" fill="#000"/>
<rect x="587" y="239" width="1" height="11" fill="#fff"/>
<rect x="590" y="239" width="1" height="10" fill="#000"/>
<rect x="589" y="241" width="3" height="7" fill="#000"/>
<rect x="594" y="244" width="1" height="6" fill="#000"/>
<rect x="593" y="244" width="3" height="1" fill="#000"/>
<rect x="598" y="243" width="1" height="4" fill="#000"/>
<rect x="597" y="244" width="3" height="1" fill="#000"/>
<rect x="601" y="235" width="1" height="5" fill="#000"/>
<rect x="600" y="239" width="3" height="1" fill="#000"/>
<rect x="605" y="237" width="1" height="4" fill="#000"/>
<rect x="604" y="237" width="3" height="4" fill="#000"/>
<rect x="609" y="231" width="1" height="16" fill="#000"/>
<rect x="608" y="235" width="3" height="5" fill="#000"/>
<rect x="609" y="236" width="1" height="3" fill="#fff"/>
<rect x="612" y="228" width="1" height="11" fill="#000"/>
<rect x="611" y="232" width="3" height="5" fill="#000"/>
<rect x="612" y="233" width="1" height="3" fill="#fff"/>
<rect x="616" y="232" width="1" height="7" fill="#000"/>
<rect x="615" y="232" width="3" height="3" fill="#000"/>
<rect x="620" y="226" width="1" height="10" fill="#000"/>
<rect x="619" y="229" width="3" height="5" fill="#000"/>
<rect x="623" y="234" width="1" height="6" fill="#000"/>
<rect x="622" y="234" width="3" height="6" fill="#000"/>
<rect x="627" y="238" width="1" height="2" fill="#000"/>
<rect x="626" y="238" width="3" height="2" fill="#000"/>
<rect x="631" y="235" width="1" height="5" fill="#000"/>
<rect x="630" y="239" width="3" height="1" fill="#000"/>
<rect x="634" y="234" width="1" height="6" fill="#000"/>
<rect x="633" y="236" width="3" height="4" fill="#000"/>
<rect x="634" y="237" width="1" height="2" fill="#fff"/>
<rect x="638" y="232" width="1" height="8" fill="#000"/>
<rect x="637" y="232" width="3" height="8" fill="#000"/>
<rect x="642" y="136" width="1" height="52" fill="#000"/>
<rect x="641" y="141" width="3" height="13" fill="#000"/>
<rect x="645" y="133" width="1" height="39" fill="#000"/>
<rect x="644" y="158" width="3" height="14" fill="#000"/>
<rect x="649" y="164" width="1" height="20" fill="#000"/>
<rect x="648" y="174" width="3" height="3" fill="#000"/>
<rect x="653" y="149" width="1" height="27" fill="#000"/>
<rect x="652" y="151" width="3" height="24" fill="#000"/>
<rect x="653" y="152" width="1" height="22" fill="#fff"/>
<rect x="656" y="151" width="1" height="27" fill="#000"/>
<rect x="655" y="154" width="3" height="24" fill="#000"/>
<rect x="660" y="163" width="1" height="15" fill="#000"/>
<rect x="659" y="170" width="3" height="8" fill="#000"/>
<rect x="660" y="171" width="1" height="6" fill="#fff"/>
<rect x="664" y="170" width="1" height="11" fill="#000"/>
<rect x="663" y="172" width="3" height="5" fill="#000"/>
<rect x="667" y="165" width="1" height="12" fill="#000"/>
<rect x="666" y="166" width="3" height="11" fill="#000"/>
<rect x="667" y="167" width="1" height="9" fill="#fff"/>
<rect x="671" y="166" width="1" height="9" fill="#000"/>
<rect x="670" y="169" width="3" height="4" fill="#000"/>
<rect x="671" y="170" width="1" height="2" fill="#fff"/>
<rect x="675" y="131" width="1" height="38" fill="#000"/>
<rect x="674" y="131" width="3" height="38" fill="#000"/>
<rect x="675" y="132" width="1" height="36" fill="#fff"/>
<rect x="678" y="131" width="1" height="13" fill="#000"/>
<rect x="677" y="131" width="3" height="7" fill="#000"/>
<rect x="682" y="131" width="1" height="16" fill="#000"/>
<rect x="681" y="134" width="3" height="7" fill="#000"/>
<rect x="682" y="135" width="1" height="5" fill="#fff"/>
<rect x="686" y="122" width="1" height="13" fill="#000"/>
<rect x="685" y="131" width="3" height="4" fill="#000"/>
<rect x="686" y="132" width="1" height="2" fill="#fff"/>
<rect x="689" y="119" width="1" height="12" fill="#000"/>
<rect x="688" y="125" width="3" height="4" fill="#000"/>
<rect x="689" y="126" width="1" height="2" fill="#fff"/>
<rect x="693" y="117" width="1" height="9" fill="#000"/>
<rect x="692" y="121" width="3" height="3" fill="#000"/>
<rect x="693" y="122" width="1" height="1" fill="#fff"/>
<rect x="697" y="116" width="1" height="13" fill="#000"/>
<rect x="696" y="117" width="3" height="7" fill="#000"/>
<rect x="700" y="123" width="1" height="18" fill="#000"/>
<rect x="699" y="126" width="3" height="10" fill="#000"/>
<rect x="704" y="120" width="1" height="13" fill="#000"/>
<rect x="703" y="122" width="3" height="11" fill="#000"/>
<rect x="704" y="123" width="1" height="9" fill="#fff"/>
<rect x="708" y="91" width="1" height="33" fill="#000"/>
<rect x="707" y="91" width="3" height="32" fill="#000"/>
<rect x="708" y="92" width="1" height="30" fill="#fff"/>
<rect x="711" y="20" width="1" height="68" fill="#000"/>
<rect x="710" y="28" width="3" height="59" fill="#000"/>
<rect x="711" y="29" width="1" height="57" fill="#fff"/>
</g>
<g shape-rendering="crispEdges">
<rect x="95" y="139" width="3" height="6" fill="#ff0000"/>
<rect x="92" y="145" width="9" height="1" fill="#ff0000"/>
<rect x="93" y="146" width="7" height="2" fill="#ff0000"/>
<rect x="94" y="148" width="5" height="2" fill="#ff0000"/>
<rect x="95" y="150" width="3" height="2" fill="#ff0000"/>
<rect x="96" y="152" width="1" height="2" fill="#ff0000"/>
<rect x="113" y="119" width="3" height="6" fill="#ff0000"/>
<rect x="110" y="125" width="9" height="1" fill="#ff0000"/>
<rect x="111" y="126" width="7" height="2" fill="#ff0000"/>
<rect x="112" y="128" width="5" height="2" fill="#ff0000"/>
<rect x="113" y="130" width="3" height="2" fill="#ff0000"/>
<rect x="114" y="132" width="1" height="2" fill="#ff0000"/>
<rect x="176" y="142" width="3" height="6" fill="#ff0000"/>
<rect x="173" y="148" width="9" height="1" fill="#ff0000"/>
<rect x="174" y="149" width="7" height="2" fill="#ff0000"/>
<rect x="175" y="151" width="5" height="2" fill="#ff0000"/>
<rect x="176" y="153" width="3" height="2" fill="#ff0000"/>
<rect x="177" y="155" width="1" height="2" fill="#ff0000"/>
<rect x="198" y="122" width="3" height="6" fill="#ff0000"/>
<rect x="195" y="128" width="9" height="1" fill="#ff0000"/>
<rect x="196" y="129" width="7" height="2" fill="#ff0000"/>
<rect x="197" y="131" width="5" height="2" fill="#ff0000"/>
<rect x="198" y="133" width="3" height="2" fill="#ff0000"/>
<rect x="199" y="135" width="1" height="2" fill="#ff0000"/>
<rect x="289" y="202" width="3" height="6" fill="#ff0000"/>
<rect x="286" y="208" width="9" height="1" fill="#ff0000"/>
<rect x="287" y="209" width="7" height="2" fill="#ff0000"/>
<rect x="288" y="211" width="5" height="2" fill="#ff0000"/>
<rect x="289" y="213" width="3" height="2" fill="#ff0000"/>
<rect x="290" y="215" width="1" height="2" fill="#ff0000"/>
<rect x="406" y="209" width="3" height="6" fill="#ff0000"/>
<rect x="403" y="215" width="9" height="1" fill="#ff0000"/>
<rect x="404" y="216" width="7" height="2" fill="#ff0000"/>
<rect x="405" y="218" width="5" height="2" fill="#ff0000"/>
<rect x="406" y="220" width="3" height="2" fill="#ff0000"/>
<rect x="407" y="222" width="1" height="2" fill="#ff0000"/>
<rect x="501" y="174" width="3" height="6" fill="#ff0000"/>
<rect x="498" y="180" width="9" height="1" fill="#ff0000"/>
<rect x="499" y="181" width="7" height="2" fill="#ff0000"/>
<rect x="500" y="183" width="5" height="2" fill="#ff0000"/>
<rect x="501" y="185" width="3" height="2" fill="#ff0000"/>
<rect x="502" y="187" width="1" height="2" fill="#ff0000"/>
<rect x="509" y="172" width="3" height="6" fill="#ff0000"/>
<rect x="506" y="178" width="9" height="1" fill="#ff0000"/>
<rect x="507" y="179" width="7" height="2" fill="#ff0000"/>
<rect x="508" y="181" width="5" height="2" fill="#ff0000"/>
<rect x="509" y="183" width="3" height="2" fill="#ff0000"/>
<rect x="510" y="185" width="1" height="2" fill="#ff0000"/>
<rect x="622" y="210" width="3" height="6" fill="#ff0000"/>
<rect x="619" y="216" width="9" height="1" fill="#ff0000"/>
<rect x="620" y="217" width="7" height="2" fill="#ff0000"/>
<rect x="621" y="219" width="5" height="2" fill="#ff0000"/>
<rect x="622" y="221" width="3" height="2" fill="#ff0000"/>
<rect x="623" y="223" width="1" height="2" fill="#ff0000"/>
<rect x="655" y="128" width="3" height="6" fill="#ff0000"/>
<rect x="652" y="134" width="9" height="1" fill="#ff0000"/>
<rect x="653" y="135" width="7" height="2" fill="#ff0000"/>
<rect x="654" y="137" width="5" height="2" fill="#ff0000"/>
<rect x="655" y="139" width="3" height="2" fill="#ff0000"/>
<rect x="656" y="141" width="1" height="2" fill="#ff0000"/>
<rect x="663" y="146" width="3" height="6" fill="#ff0000"/>
<rect x="660" y="152" width="9" height="1" fill="#ff0000"/>
<rect x="661" y="153" width="7" height="2" fill="#ff0000"/>
<rect x="662" y="155" width="5" height="2" fill="#ff0000"/>
<rect x="663" y="157" width="3" height="2" fill="#ff0000"/>
<rect x="664" y="159" width="1" height="2" fill="#ff0000"/>
<rect x="699" y="100" width="3" height="6" fill="#ff0000"/>
<rect x="696" y="106" width="9" height="1" fill="#ff0000"/>
<rect x="697" y="107" width="7" height="2" fill="#ff0000"/>
<rect x="698" y="109" width="5" height="2" fill="#ff0000"/>
<rect x="699" y="111" width="3" height="2" fill="#ff0000"/>
<rect x="700" y="113" width="1" height="2" fill="#ff0000"/>
<rect x="5" y="162" width="1" height="2" fill="#009400"/>
<rect x="4" y="164" width="3" height="2" fill="#009400"/>
<rect x="3" y="166" width="5" height="2" fill="#009400"/>
<rect x="2" y="168" width="7" height="2" fill="#009400"/>
<rect x="1" y="170" width="9" height="1" fill="#009400"/>
<rect x="4" y="171" width="3" height="6" fill="#009400"/>
<rect x="34" y="207" width="1" height="2" fill="#009400"/>
<rect x="33" y="209" width="3" height="2" fill="#009400"/>
<rect x="32" y="211" width="5" height="2" fill="#009400"/>
<rect x="31" y="213" width="7" height="2" fill="#009400"/>
<rect x="30" y="215" width="9" height="1" fill="#009400"/>
<rect x="33" y="216" width="3" height="6" fill="#009400"/>
<rect x="59" y="224" width="1" height="2" fill="#009400"/>
<rect x="58" y="226" width="3" height="2" fill="#009400"/>
<rect x="57" y="228" width="5" height="2" fill="#009400"/>
<rect x="56" y="230" width="7" height="2" fill="#009400"/>
<rect x="55" y="232" width="9" height="1" fill="#009400"/>
<rect x="58" y="233" width="3" height="6" fill="#009400"/>
<rect x="151" y="226" width="1" height="2" fill="#009400"/>
<rect x="150" y="228" width="3" height="2" fill="#009400"/>
<rect x="149" y="230" width="5" height="2" fill="#009400"/>
<rect x="148" y="232" width="7" height="2" fill="#009400"/>
<rect x="147" y="234" width="9" height="1" fill="#009400"/>
<rect x="150" y="235" width="3" height="6" fill="#009400"/>
<rect x="250" y="288" width="1" height="2" fill="#009400"/>
<rect x="249" y="290" width="3" height="2" fill="#009400"/>
<rect x="248" y="292" width="5" height="2" fill="#009400"/>
<rect x="247" y="294" width="7" height="2" fill="#009400"/>
<rect x="246" y="296" width="9" height="1" fill="#009400"/>
<rect x="249" y="297" width="3" height="6" fill="#009400"/>
<rect x="341" y="287" width="1" height="2" fill="#009400"/>
<rect x="340" y="289" width="3" height="2" fill="#009400"/>
<rect x="339" y="291" width="5" height="2" fill="#009400"/>
<rect x="338" y="293" width="7" height="2" fill="#009400"/>
<rect x="337" y="295" width="9" height="1" fill="#009400"/>
<rect x="340" y="296" width="3" height="6" fill="#009400"/>
<rect x="451" y="262" width="1" height="2" fill="#009400"/>
<rect x="450" y="264" width="3" height="2" fill="#009400"/>
<rect x="449" y="266" width="5" height="2" fill="#009400"/>
<rect x="448" y="268" width="7" height="2" fill="#009400"/>
<rect x="447" y="270" width="9" height="1" fill="#009400"/>
<rect x="450" y="271" width="3" height="6" fill="#009400"/>
<rect x="557" y="270" width="1" height="2" fill="#009400"/>
<rect x="556" y="272" width="3" height="2" fill="#009400"/>
<rect x="555" y="274" width="5" height="2" fill="#009400"/>
<rect x="554" y="276" width="7" height="2" fill="#009400"/>
<rect x="553" y="278" width="9" height="1" fill="#009400"/>
<rect x="556" y="279" width="3" height="6" fill="#009400"/>
<rect x="568" y="264" width="1" height="2" fill="#009400"/>
<rect x="567" y="266" width="3" height="2" fill="#009400"/>
<rect x="566" y="268" width="5" height="2" fill="#009400"/>
<rect x="565" y="270" width="7" height="2" fill="#009400"/>
<rect x="564" y="272" width="9" height="1" fill="#009400"/>
<rect x="567" y="273" width="3" height="6" fill="#009400"/>
</g>
<path d="M4 331h61v1h-61zM297 331h85v1h-85zM470 327h220v1h-220zM76 329h219v1h-219zM466 329h2v1h-2zM74 330h2v1h-2zM295 330h2v1h-2zM382 330h84v1h-84zM693 330h18v1h-18zM468 328h2v1h-2zM690 328h2v1h-2zM67 334h2v1h-2zM692 329h1v1h-1zM69 335h1v1h-1zM70 334h1v1h-1zM72 332h1v1h-1zM73 331h1v1h-1zM65 332h1v1h-1zM71 333h1v1h-1zM66 333h1v1h-1z" fill="#000" shape-rendering="crispEdges"/>
<path d="M468 390h243v1h-243zM4 392h16v1h-16zM250 392h189v1h-189zM25 400h3v1h-3zM76 400h168v1h-168zM439 391h29v1h-29zM28 401h48v1h-48zM21 396h1v1h-1zM20 394h1v2h-1zM22 397h1v1h-1zM249 393h1v1h-1zM19 393h1v1h-1zM24 399h1v1h-1zM244 399h1v1h-1zM23 398h1v1h-1zM247 395h1v1h-1zM245 398h1v1h-1zM246 396h1v2h-1zM248 394h1v1h-1z" fill="#000" shape-rendering="crispEdges"/>
<path d="M43 383h2v1h-2zM559 383h2v1h-2zM363 367h3v1h-3zM429 367h14v1h-14zM289 340h2v1h-2zM506 340h2v1h-2zM615 340h5v1h-5zM647 340h2v1h-2zM662 340h2v1h-2zM38 386h2v1h-2zM144 386h2v1h-2zM239 386h2v1h-2zM544 386h2v1h-2zM555 386h2v1h-2zM224 388h4v1h-4zM233 388h4v1h-4zM85 337h6v1h-6zM388 337h2v1h-2zM406 337h2v1h-2zM483 337h2v1h-2zM488 337h2v1h-2zM501 337h2v1h-2zM653 337h5v1h-5zM367 365h2v1h-2zM356 369h3v1h-3zM445 369h3v1h-3zM577 369h2v1h-2zM352 371h2v1h-2zM450 371h2v1h-2zM573 371h2v1h-2zM688 343h2v1h-2zM697 343h2v1h-2zM177 352h3v1h-3zM595 352h2v1h-2zM632 352h2v1h-2zM611 342h2v1h-2zM665 342h2v1h-2zM690 342h7v1h-7zM185 348h2v1h-2zM299 348h2v1h-2zM602 348h2v1h-2zM391 335h2v1h-2zM395 333h7v1h-7zM194 344h2v1h-2zM608 344h2v1h-2zM668 344h2v1h-2zM686 344h2v1h-2zM168 360h2v1h-2zM192 345h2v1h-2zM606 345h2v1h-2zM623 345h2v1h-2zM670 345h2v1h-2zM679 345h7v1h-7zM700 345h3v1h-3zM473 336h10v1h-10zM490 336h2v1h-2zM54 378h2v1h-2zM319 378h2v1h-2zM8 368h5v1h-5zM359 368h4v1h-4zM443 368h2v1h-2zM579 368h2v1h-2zM354 370h2v1h-2zM448 370h2v1h-2zM575 370h2v1h-2zM49 380h3v1h-3zM323 380h12v1h-12zM339 380h2v1h-2zM563 380h2v1h-2zM83 338h2v1h-2zM386 338h2v1h-2zM408 338h2v1h-2zM485 338h3v1h-3zM503 338h2v1h-2zM650 338h3v1h-3zM658 338h2v1h-2zM34 389h2v1h-2zM228 389h5v1h-5zM106 354h2v1h-2zM636 354h2v1h-2zM142 385h2v1h-2zM219 385h2v1h-2zM241 385h2v1h-2zM183 349h2v1h-2zM301 349h2v1h-2zM81 339h2v1h-2zM92 339h2v1h-2zM284 339h5v1h-5zM660 339h2v1h-2zM108 355h11v1h-11zM638 355h2v1h-2zM393 334h2v1h-2zM402 334h2v1h-2zM493 334h6v1h-6zM189 346h3v1h-3zM672 346h7v1h-7zM703 346h3v1h-3zM119 356h4v1h-4zM271 356h2v1h-2zM187 347h2v1h-2zM297 347h2v1h-2zM52 379h2v1h-2zM321 379h2v1h-2zM341 379h2v1h-2zM47 381h2v1h-2zM248 381h2v1h-2zM335 381h4v1h-4zM537 381h2v1h-2zM146 387h2v1h-2zM222 387h2v1h-2zM237 387h2v1h-2zM546 387h9v1h-9zM180 351h2v1h-2zM597 351h2v1h-2zM630 351h2v1h-2zM508 341h2v1h-2zM613 341h2v1h-2zM303 350h2v1h-2zM599 350h2v1h-2zM41 384h2v1h-2zM140 384h2v1h-2zM243 384h2v1h-2zM541 384h2v1h-2zM166 361h2v1h-2zM104 353h2v1h-2zM174 353h3v1h-3zM634 353h2v1h-2zM348 373h2v1h-2zM269 357h2v1h-2zM374 357h2v1h-2zM45 382h2v1h-2zM246 382h2v1h-2zM350 372h2v1h-2zM571 372h2v1h-2zM582 366h2v1h-2zM25 390h2v1h-2zM58 375h2v1h-2zM27 391h2v1h-2zM31 391h2v1h-2zM29 392h2v1h-2zM20 383h1v2h-1zM126 363h1v2h-1zM205 364h1v2h-1zM23 387h1v2h-1zM621 342h1v2h-1zM130 371h1v2h-1zM78 342h1v2h-1zM202 358h1v2h-1zM499 335h1v1h-1zM382 343h1v2h-1zM69 360h1v2h-1zM312 364h1v2h-1zM500 336h1v1h-1zM457 364h1v2h-1zM259 368h1v2h-1zM123 357h1v2h-1zM589 358h1v2h-1zM74 348h1v2h-1zM422 357h1v2h-1zM586 362h1v2h-1zM369 364h1v1h-1zM221 386h1v1h-1zM643 344h1v2h-1zM68 362h1v2h-1zM18 378h1v3h-1zM415 344h1v2h-1zM133 376h1v2h-1zM164 363h1v1h-1zM73 350h1v3h-1zM19 381h1v2h-1zM274 351h1v2h-1zM620 341h1v1h-1zM464 350h1v2h-1zM99 346h1v1h-1zM558 384h1v1h-1zM404 335h1v1h-1zM266 360h1v2h-1zM100 347h1v1h-1zM151 383h1v1h-1zM57 376h1v1h-1zM513 345h1v1h-1zM250 380h1v1h-1zM61 373h1v1h-1zM282 341h1v1h-1zM514 346h1v1h-1zM628 349h1v1h-1zM452 370h1v1h-1zM171 357h1v2h-1zM22 386h1v1h-1zM277 347h1v1h-1zM129 369h1v2h-1zM215 381h1v1h-1zM426 363h1v1h-1zM258 370h1v1h-1zM125 361h1v2h-1zM216 382h1v1h-1zM311 361h1v3h-1zM562 381h1v1h-1zM314 368h1v3h-1zM103 352h1v1h-1zM201 355h1v3h-1zM253 376h1v1h-1zM273 353h1v2h-1zM642 346h1v1h-1zM64 369h1v1h-1zM455 367h1v1h-1zM517 350h1v2h-1zM372 360h1v1h-1zM148 386h1v1h-1zM528 368h1v2h-1zM77 344h1v1h-1zM80 340h1v1h-1zM627 348h1v1h-1zM425 362h1v1h-1zM75 346h1v2h-1zM155 376h1v2h-1zM21 385h1v1h-1zM158 371h1v2h-1zM418 350h1v2h-1zM135 379h1v1h-1zM261 366h1v1h-1zM421 355h1v2h-1zM641 347h1v3h-1zM128 367h1v2h-1zM136 380h1v1h-1zM414 343h1v1h-1zM204 362h1v2h-1zM467 345h1v2h-1zM581 367h1v1h-1zM569 374h1v1h-1zM15 372h1v2h-1zM154 378h1v2h-1zM7 369h1v1h-1zM707 344h1v1h-1zM102 350h1v2h-1zM585 364h1v1h-1zM295 345h1v1h-1zM649 339h1v1h-1zM344 377h1v1h-1zM72 353h1v2h-1zM170 359h1v1h-1zM296 346h1v1h-1zM516 348h1v2h-1zM33 390h1v1h-1zM463 352h1v2h-1zM424 360h1v2h-1zM520 355h1v1h-1zM417 348h1v2h-1zM699 344h1v1h-1zM428 366h1v1h-1zM124 359h1v2h-1zM127 365h1v2h-1zM462 354h1v2h-1zM622 344h1v1h-1zM379 348h1v2h-1zM588 360h1v1h-1zM371 361h1v2h-1zM265 362h1v1h-1zM67 364h1v2h-1zM14 371h1v1h-1zM173 354h1v2h-1zM101 348h1v2h-1zM710 340h1v1h-1zM519 353h1v2h-1zM310 359h1v2h-1zM527 366h1v2h-1zM531 373h1v2h-1zM378 350h1v2h-1zM505 339h1v1h-1zM410 339h1v1h-1zM211 376h1v2h-1zM664 341h1v1h-1zM466 347h1v1h-1zM161 367h1v1h-1zM24 389h1v1h-1zM416 346h1v2h-1zM153 380h1v2h-1zM591 356h1v1h-1zM17 376h1v2h-1zM374 358h1v1h-1zM268 358h1v1h-1zM94 340h1v1h-1zM63 370h1v2h-1zM313 366h1v2h-1zM218 384h1v1h-1zM157 373h1v2h-1zM200 353h1v2h-1zM640 350h1v4h-1zM454 368h1v1h-1zM515 347h1v1h-1zM306 352h1v2h-1zM276 348h1v2h-1zM279 344h1v2h-1zM530 372h1v1h-1zM469 342h1v2h-1zM257 371h1v1h-1zM260 367h1v1h-1zM629 350h1v1h-1zM461 356h1v2h-1zM427 364h1v2h-1zM210 374h1v2h-1zM66 366h1v2h-1zM317 375h1v2h-1zM13 369h1v2h-1zM252 377h1v1h-1zM16 374h1v2h-1zM405 336h1v1h-1zM644 343h1v1h-1zM150 384h1v1h-1zM217 383h1v1h-1zM385 339h1v1h-1zM529 370h1v2h-1zM291 341h1v1h-1zM245 383h1v1h-1zM272 355h1v1h-1zM199 350h1v3h-1zM263 364h1v1h-1zM160 368h1v2h-1zM518 352h1v1h-1zM526 364h1v2h-1zM381 345h1v2h-1zM70 357h1v3h-1zM196 345h1v2h-1zM492 335h1v1h-1zM709 341h1v2h-1zM639 354h1v1h-1zM639 356h1v1h-1zM207 368h1v2h-1zM346 375h1v1h-1zM137 381h1v1h-1zM377 352h1v2h-1zM566 378h1v1h-1zM255 373h1v1h-1zM97 343h1v2h-1zM138 382h1v1h-1zM172 356h1v1h-1zM465 348h1v2h-1zM309 357h1v2h-1zM521 356h1v2h-1zM343 378h1v1h-1zM511 343h1v1h-1zM532 375h1v1h-1zM305 351h1v1h-1zM522 358h1v1h-1zM525 362h1v2h-1zM533 376h1v1h-1zM601 349h1v1h-1zM366 366h1v1h-1zM316 373h1v2h-1zM590 357h1v1h-1zM370 363h1v1h-1zM540 383h1v1h-1zM206 366h1v2h-1zM460 358h1v3h-1zM543 385h1v1h-1zM156 375h1v1h-1zM275 350h1v1h-1zM308 355h1v2h-1zM163 364h1v2h-1zM37 387h1v1h-1zM593 354h1v1h-1zM152 382h1v1h-1zM198 348h1v2h-1zM605 346h1v1h-1zM456 366h1v1h-1zM373 359h1v1h-1zM251 378h1v2h-1zM472 337h1v2h-1zM209 372h1v2h-1zM283 340h1v1h-1zM315 371h1v2h-1zM56 377h1v1h-1zM539 382h1v1h-1zM213 379h1v1h-1zM510 342h1v1h-1zM278 346h1v1h-1zM281 342h1v1h-1zM262 365h1v1h-1zM293 343h1v1h-1zM307 354h1v1h-1zM524 360h1v2h-1zM182 350h1v1h-1zM254 374h1v2h-1zM557 385h1v1h-1zM411 340h1v1h-1zM468 344h1v1h-1zM212 378h1v1h-1zM65 368h1v1h-1zM646 341h1v1h-1zM384 340h1v2h-1zM459 361h1v2h-1zM561 382h1v1h-1zM376 354h1v2h-1zM208 370h1v2h-1zM345 376h1v1h-1zM60 374h1v1h-1zM95 341h1v1h-1zM565 379h1v1h-1zM96 342h1v1h-1zM76 345h1v1h-1zM139 383h1v1h-1zM471 339h1v2h-1zM197 347h1v1h-1zM523 359h1v1h-1zM535 379h1v1h-1zM568 375h1v2h-1zM318 377h1v1h-1zM584 365h1v1h-1zM132 375h1v1h-1zM71 355h1v2h-1zM292 342h1v1h-1zM534 377h1v2h-1zM159 370h1v1h-1zM380 347h1v1h-1zM592 355h1v1h-1zM604 347h1v1h-1zM91 338h1v1h-1zM131 373h1v2h-1zM6 370h1v1h-1zM587 361h1v1h-1zM706 345h1v1h-1zM98 345h1v1h-1zM79 341h1v1h-1zM162 366h1v1h-1zM165 362h1v1h-1zM36 388h1v1h-1zM512 344h1v1h-1zM40 385h1v1h-1zM390 336h1v1h-1zM383 342h1v1h-1zM264 363h1v1h-1zM214 380h1v1h-1zM203 360h1v2h-1zM667 343h1v1h-1zM625 346h1v1h-1zM256 372h1v1h-1zM645 342h1v1h-1zM626 347h1v1h-1zM458 363h1v1h-1zM375 356h1v1h-1zM62 372h1v1h-1zM419 352h1v2h-1zM412 341h1v1h-1zM420 354h1v1h-1zM267 359h1v1h-1zM149 385h1v1h-1zM423 359h1v1h-1zM453 369h1v1h-1zM413 342h1v1h-1zM134 378h1v1h-1zM280 343h1v1h-1zM594 353h1v1h-1zM610 343h1v1h-1zM470 341h1v1h-1zM294 344h1v1h-1zM347 374h1v1h-1zM567 377h1v1h-1zM570 373h1v1h-1zM536 380h1v1h-1zM708 343h1v1h-1zM5 371h1v1h-1z" fill="#0000ff" shape-rendering="crispEdges"/>
<path d="M333 382h7v1h-7zM7 364h2v1h-2zM103 364h3v1h-3zM352 364h2v1h-2zM360 364h2v1h-2zM573 364h2v1h-2zM578 364h3v1h-3zM86 331h3v1h-3zM439 367h3v1h-3zM134 392h2v1h-2zM228 392h2v1h-2zM538 392h6v1h-6zM546 392h2v1h-2zM267 349h2v1h-2zM610 336h2v1h-2zM614 336h2v1h-2zM350 365h2v1h-2zM362 365h2v1h-2zM571 365h2v1h-2zM187 343h2v1h-2zM687 343h2v1h-2zM486 338h2v1h-2zM618 338h2v1h-2zM612 335h2v1h-2zM442 368h2v1h-2zM50 376h4v1h-4zM232 390h2v1h-2zM616 337h2v1h-2zM113 357h10v1h-10zM301 357h5v1h-5zM448 373h2v1h-2zM471 323h3v1h-3zM450 374h2v1h-2zM84 330h2v1h-2zM399 330h2v1h-2zM41 379h2v1h-2zM193 340h3v1h-3zM503 340h2v1h-2zM605 340h2v1h-2zM693 340h5v1h-5zM9 363h2v1h-2zM354 363h6v1h-6zM575 363h3v1h-3zM581 363h2v1h-2zM191 341h2v1h-2zM505 341h2v1h-2zM603 341h2v1h-2zM691 341h2v1h-2zM230 391h2v1h-2zM138 394h2v1h-2zM142 394h2v1h-2zM213 394h8v1h-8zM224 394h2v1h-2zM179 346h3v1h-3zM374 346h2v1h-2zM677 346h2v1h-2zM163 351h2v1h-2zM168 351h2v1h-2zM74 328h8v1h-8zM280 328h5v1h-5zM389 328h8v1h-8zM173 345h2v1h-2zM177 345h2v1h-2zM182 345h2v1h-2zM375 345h2v1h-2zM590 345h3v1h-3zM597 345h2v1h-2zM679 345h4v1h-4zM234 389h2v1h-2zM550 389h2v1h-2zM189 342h2v1h-2zM689 342h2v1h-2zM385 326h2v1h-2zM54 375h2v1h-2zM47 377h3v1h-3zM426 377h2v1h-2zM429 377h2v1h-2zM631 360h6v1h-6zM175 344h2v1h-2zM184 344h3v1h-3zM375 344h2v1h-2zM593 344h4v1h-4zM599 344h2v1h-2zM683 344h4v1h-4zM374 347h2v1h-2zM665 347h2v1h-2zM675 347h2v1h-2zM38 381h2v1h-2zM330 381h3v1h-3zM484 339h2v1h-2zM82 329h2v1h-2zM397 329h2v1h-2zM165 350h3v1h-3zM669 350h2v1h-2zM637 361h2v1h-2zM89 332h2v1h-2zM495 332h2v1h-2zM491 334h2v1h-2zM43 378h4v1h-4zM493 333h2v1h-2zM497 333h2v1h-2zM387 327h2v1h-2zM649 327h4v1h-4zM111 358h2v1h-2zM136 393h2v1h-2zM226 393h2v1h-2zM318 393h2v1h-2zM544 393h2v1h-2zM24 402h2v1h-2zM28 402h2v1h-2zM474 324h2v1h-2zM140 395h2v1h-2zM221 395h3v1h-3zM26 403h2v1h-2zM628 355h1v1h-1zM366 364h1v1h-1zM401 331h1v1h-1zM20 392h1v3h-1zM404 335h1v2h-1zM422 371h1v2h-1zM621 341h1v3h-1zM149 384h1v2h-1zM276 335h1v2h-1zM70 336h1v5h-1zM499 335h1v2h-1zM202 367h1v6h-1zM16 376h1v5h-1zM264 352h1v2h-1zM316 389h1v2h-1zM405 337h1v2h-1zM100 355h1v4h-1zM434 373h1v1h-1zM644 334h1v4h-1zM658 337h1v1h-1zM309 366h1v4h-1zM18 385h1v4h-1zM563 374h1v2h-1zM73 329h1v2h-1zM198 349h1v4h-1zM133 390h1v2h-1zM251 372h1v2h-1zM659 338h1v1h-1zM156 364h1v3h-1zM326 385h1v1h-1zM62 365h1v2h-1zM199 353h1v3h-1zM609 337h1v1h-1zM377 340h1v3h-1zM145 391h1v2h-1zM525 374h1v2h-1zM419 364h1v3h-1zM12 365h1v2h-1zM586 353h1v3h-1zM555 383h1v2h-1zM96 345h1v2h-1zM558 380h1v1h-1zM126 368h1v5h-1zM99 351h1v4h-1zM34 388h1v2h-1zM308 363h1v3h-1zM161 353h1v2h-1zM370 354h1v3h-1zM151 379h1v2h-1zM57 372h1v2h-1zM382 330h1v1h-1zM708 342h1v2h-1zM627 354h1v1h-1zM15 372h1v4h-1zM457 357h1v4h-1zM407 340h1v2h-1zM125 363h1v5h-1zM469 325h1v1h-1zM373 348h1v2h-1zM456 361h1v4h-1zM639 353h1v6h-1zM271 345h1v2h-1zM437 369h1v2h-1zM408 342h1v1h-1zM19 389h1v3h-1zM703 348h1v1h-1zM421 369h1v2h-1zM294 346h1v2h-1zM160 355h1v2h-1zM524 373h1v1h-1zM315 386h1v3h-1zM243 381h1v1h-1zM704 349h1v1h-1zM662 342h1v2h-1zM68 346h1v5h-1zM643 338h1v4h-1zM205 381h1v2h-1zM148 386h1v2h-1zM129 381h1v3h-1zM520 365h1v4h-1zM69 341h1v5h-1zM132 388h1v2h-1zM531 389h1v2h-1zM95 343h1v2h-1zM201 361h1v6h-1zM307 361h1v2h-1zM275 337h1v2h-1zM171 347h1v2h-1zM403 333h1v2h-1zM246 378h1v1h-1zM411 346h1v2h-1zM646 330h1v1h-1zM623 346h1v3h-1zM92 336h1v3h-1zM195 339h1v1h-1zM195 341h1v1h-1zM585 356h1v3h-1zM322 391h1v1h-1zM425 376h1v1h-1zM415 352h1v2h-1zM460 343h1v4h-1zM342 377h1v2h-1zM208 386h1v2h-1zM502 339h1v1h-1zM293 344h1v2h-1zM554 385h1v2h-1zM620 339h1v2h-1zM661 340h1v2h-1zM33 390h1v2h-1zM254 368h1v2h-1zM56 374h1v1h-1zM372 350h1v2h-1zM340 380h1v2h-1zM455 365h1v4h-1zM517 359h1v2h-1zM447 372h1v1h-1zM22 398h1v2h-1zM530 387h1v2h-1zM584 359h1v2h-1zM110 359h1v1h-1zM417 358h1v3h-1zM436 371h1v1h-1zM40 380h1v1h-1zM155 367h1v4h-1zM562 376h1v1h-1zM565 372h1v1h-1zM311 374h1v3h-1zM630 358h1v2h-1zM325 386h1v2h-1zM410 345h1v1h-1zM317 391h1v2h-1zM147 388h1v2h-1zM297 351h1v2h-1zM37 382h1v2h-1zM424 374h1v2h-1zM204 377h1v4h-1zM212 392h1v2h-1zM459 347h1v6h-1zM376 343h1v1h-1zM310 370h1v4h-1zM707 344h1v1h-1zM131 386h1v2h-1zM250 374h1v1h-1zM608 338h1v1h-1zM241 383h1v1h-1zM672 350h1v1h-1zM418 361h1v3h-1zM170 349h1v2h-1zM314 383h1v3h-1zM159 357h1v3h-1zM534 394h1v1h-1zM516 357h1v2h-1zM203 373h1v4h-1zM32 392h1v3h-1zM128 377h1v4h-1zM266 350h1v1h-1zM349 366h1v1h-1zM154 371h1v4h-1zM479 331h1v2h-1zM63 363h1v2h-1zM409 343h1v2h-1zM94 341h1v2h-1zM501 338h1v1h-1zM699 343h1v2h-1zM629 356h1v2h-1zM102 362h1v2h-1zM72 331h1v2h-1zM207 385h1v1h-1zM641 345h1v4h-1zM127 373h1v4h-1zM622 344h1v2h-1zM210 389h1v2h-1zM253 370h1v1h-1zM296 349h1v2h-1zM371 352h1v2h-1zM526 376h1v3h-1zM420 367h1v2h-1zM454 369h1v2h-1zM431 376h1v1h-1zM664 346h1v1h-1zM211 391h1v1h-1zM557 381h1v1h-1zM150 381h1v3h-1zM14 370h1v2h-1zM59 370h1v1h-1zM71 333h1v3h-1zM645 331h1v3h-1zM17 381h1v4h-1zM272 343h1v2h-1zM519 363h1v2h-1zM660 339h1v1h-1zM257 363h1v2h-1zM260 359h1v1h-1zM313 380h1v3h-1zM321 392h1v2h-1zM197 346h1v3h-1zM238 386h1v1h-1zM324 388h1v2h-1zM533 392h1v2h-1zM568 368h1v2h-1zM200 356h1v5h-1zM482 336h1v2h-1zM368 359h1v3h-1zM466 328h1v2h-1zM67 351h1v4h-1zM196 342h1v4h-1zM478 329h1v2h-1zM236 388h1v1h-1zM256 365h1v2h-1zM416 354h1v4h-1zM560 378h1v1h-1zM489 336h1v1h-1zM299 354h1v2h-1zM101 359h1v3h-1zM583 361h1v2h-1zM91 334h1v2h-1zM206 383h1v2h-1zM378 337h1v3h-1zM292 342h1v2h-1zM158 360h1v2h-1zM295 348h1v1h-1zM663 344h1v2h-1zM31 395h1v4h-1zM588 348h1v3h-1zM640 349h1v4h-1zM518 361h1v2h-1zM463 335h1v3h-1zM653 329h1v2h-1zM23 400h1v2h-1zM130 384h1v2h-1zM537 393h1v1h-1zM515 355h1v2h-1zM153 375h1v2h-1zM343 375h1v2h-1zM435 372h1v1h-1zM245 379h1v1h-1zM36 384h1v2h-1zM312 377h1v3h-1zM529 384h1v3h-1zM93 339h1v2h-1zM481 335h1v1h-1zM30 399h1v3h-1zM512 349h1v2h-1zM66 355h1v4h-1zM674 348h1v1h-1zM347 368h1v1h-1zM412 348h1v1h-1zM698 341h1v2h-1zM298 353h1v1h-1zM413 349h1v1h-1zM90 333h1v1h-1zM291 340h1v2h-1zM458 353h1v4h-1zM6 365h1v2h-1zM602 342h1v1h-1zM507 342h1v1h-1zM327 384h1v1h-1zM453 371h1v1h-1zM480 333h1v2h-1zM528 381h1v3h-1zM477 327h1v2h-1zM508 343h1v1h-1zM61 367h1v2h-1zM511 347h1v2h-1zM144 393h1v1h-1zM587 351h1v2h-1zM209 388h1v1h-1zM462 338h1v2h-1zM369 357h1v2h-1zM240 384h1v1h-1zM381 331h1v2h-1zM567 370h1v1h-1zM570 366h1v1h-1zM13 367h1v3h-1zM279 329h1v2h-1zM465 330h1v2h-1zM438 368h1v1h-1zM461 340h1v3h-1zM365 365h1v1h-1zM514 353h1v2h-1zM103 365h1v1h-1zM263 354h1v1h-1zM346 369h1v2h-1zM535 395h1v1h-1zM157 362h1v2h-1zM107 362h1v1h-1zM433 374h1v1h-1zM252 371h1v1h-1zM559 379h1v1h-1zM488 337h1v1h-1zM152 377h1v2h-1zM58 371h1v1h-1zM259 360h1v2h-1zM290 338h1v2h-1zM521 369h1v2h-1zM274 339h1v2h-1zM652 328h1v1h-1zM323 390h1v1h-1zM452 372h1v2h-1zM65 359h1v2h-1zM172 346h1v1h-1zM287 332h1v2h-1zM445 370h1v1h-1zM270 347h1v1h-1zM513 351h1v2h-1zM624 349h1v2h-1zM711 334h1v3h-1zM589 346h1v2h-1zM483 338h1v1h-1zM700 345h1v1h-1zM464 332h1v3h-1zM255 367h1v1h-1zM476 325h1v2h-1zM414 350h1v2h-1zM654 331h1v2h-1zM300 356h1v1h-1zM289 336h1v2h-1zM655 333h1v1h-1zM647 329h1v1h-1zM444 369h1v1h-1zM247 377h1v1h-1zM262 355h1v2h-1zM345 371h1v2h-1zM21 395h1v3h-1zM286 331h1v1h-1zM601 343h1v1h-1zM642 342h1v3h-1zM468 326h1v1h-1zM509 344h1v2h-1zM673 349h1v1h-1zM549 390h1v1h-1zM278 331h1v2h-1zM341 379h1v1h-1zM510 346h1v1h-1zM527 379h1v2h-1zM122 358h1v1h-1zM638 359h1v2h-1zM566 371h1v1h-1zM64 361h1v2h-1zM285 329h1v2h-1zM329 382h1v1h-1zM384 327h1v1h-1zM710 337h1v3h-1zM561 377h1v1h-1zM490 335h1v1h-1zM364 366h1v1h-1zM428 378h1v1h-1zM60 369h1v1h-1zM11 364h1v1h-1zM273 341h1v2h-1zM553 387h1v1h-1zM106 363h1v1h-1zM242 382h1v1h-1zM380 333h1v2h-1zM706 345h1v2h-1zM569 367h1v1h-1zM258 362h1v1h-1zM498 334h1v1h-1zM657 335h1v2h-1zM367 362h1v2h-1zM523 372h1v1h-1zM288 334h1v2h-1zM265 351h1v1h-1zM109 360h1v1h-1zM348 367h1v1h-1zM277 333h1v2h-1zM98 349h1v2h-1zM432 375h1v1h-1zM269 348h1v1h-1zM626 352h1v2h-1zM146 390h1v1h-1zM249 375h1v1h-1zM124 361h1v2h-1zM261 357h1v2h-1zM607 339h1v1h-1zM344 373h1v2h-1zM671 351h1v1h-1zM383 328h1v2h-1zM35 386h1v2h-1zM320 394h1v1h-1zM237 387h1v1h-1zM564 373h1v1h-1zM379 335h1v2h-1zM705 347h1v2h-1zM97 347h1v2h-1zM306 359h1v2h-1zM667 348h1v1h-1zM162 352h1v1h-1zM625 351h1v1h-1zM709 340h1v2h-1zM123 359h1v2h-1zM668 349h1v1h-1zM701 346h1v1h-1zM470 324h1v1h-1zM522 371h1v1h-1zM406 339h1v1h-1zM556 382h1v1h-1zM702 347h1v1h-1zM402 332h1v1h-1zM423 373h1v1h-1zM656 334h1v1h-1zM244 380h1v1h-1zM467 327h1v1h-1zM446 371h1v1h-1zM548 391h1v1h-1zM552 388h1v1h-1zM536 394h1v1h-1zM328 383h1v1h-1zM5 367h1v1h-1zM500 337h1v1h-1zM108 361h1v1h-1zM648 328h1v1h-1zM248 376h1v1h-1zM532 391h1v1h-1zM305 358h1v1h-1zM239 385h1v1h-1z" fill="#ff0000" shape-rendering="crispEdges"/>
<g shape-rendering="crispEdges">
<line x1="4" y1="558" x2="28.5" y2="558" stroke="#009400" stroke-width="3" stroke-dasharray="6 1 3 1"/>
<line x1="29" y1="642.6" x2="53.5" y2="642.6" stroke="#009400" stroke-width="3" stroke-dasharray="6 1 3 1"/>
<line x1="58" y1="648.5" x2="135" y2="648.5" stroke="#009400" stroke-width="3" stroke-dasharray="6 1 3 1"/>
<line x1="135.2" y1="633.4" x2="241" y2="633.4" stroke="#009400" stroke-width="3" stroke-dasharray="6 1 3 1"/>
<line x1="242" y1="709.4" x2="320.8" y2="709.4" stroke="#009400" stroke-width="3" stroke-dasharray="6 1 3 1"/>
<line x1="322.4" y1="702.6" x2="340.5" y2="702.6" stroke="#009400" stroke-width="3" stroke-dasharray="6 1 3 1"/>
<line x1="340.5" y1="712.2" x2="536.5" y2="712.2" stroke="#009400" stroke-width="3" stroke-dasharray="6 1 3 1"/>
<line x1="538.2" y1="672.2" x2="552" y2="672.2" stroke="#009400" stroke-width="3" stroke-dasharray="6 1 3 1"/>
<line x1="552.9" y1="698.5" x2="713" y2="698.5" stroke="#009400" stroke-width="3" stroke-dasharray="6 1 3 1"/>
<line x1="88" y1="583.2" x2="116.5" y2="583.2" stroke="#ff0000" stroke-width="3" stroke-dasharray="6 1 3 1"/>
<line x1="116.6" y1="589.5" x2="186.5" y2="589.5" stroke="#ff0000" stroke-width="3" stroke-dasharray="6 1 3 1"/>
<line x1="187" y1="586.2" x2="285" y2="586.2" stroke="#ff0000" stroke-width="3" stroke-dasharray="6 1 3 1"/>
<line x1="285.3" y1="656.3" x2="384.2" y2="656.3" stroke="#ff0000" stroke-width="3" stroke-dasharray="6 1 3 1"/>
<line x1="384.2" y1="672.5" x2="406.5" y2="672.5" stroke="#ff0000" stroke-width="3" stroke-dasharray="6 1 3 1"/>
<line x1="406.6" y1="661.3" x2="475" y2="661.3" stroke="#ff0000" stroke-width="3" stroke-dasharray="6 1 3 1"/>
<line x1="476.4" y1="651.5" x2="501.2" y2="651.5" stroke="#ff0000" stroke-width="3" stroke-dasharray="6 1 3 1"/>
<line x1="501.2" y1="626.5" x2="614" y2="626.5" stroke="#ff0000" stroke-width="3" stroke-dasharray="6 1 3 1"/>
<line x1="615.2" y1="663.2" x2="647" y2="663.2" stroke="#ff0000" stroke-width="3" stroke-dasharray="6 1 3 1"/>
<line x1="647.8" y1="593.2" x2="673.3" y2="593.2" stroke="#ff0000" stroke-width="3" stroke-dasharray="6 1 3 1"/>
<line x1="677" y1="558.3" x2="699" y2="558.3" stroke="#ff0000" stroke-width="3" stroke-dasharray="6 1 3 1"/>
<line x1="699" y1="550.3" x2="713" y2="550.3" stroke="#ff0000" stroke-width="3" stroke-dasharray="6 1 3 1"/>
</g>
<path d="M42 640h2v1h-2zM500 622h2v1h-2zM61 653h5v1h-5zM410 653h2v1h-2zM417 653h2v1h-2zM581 698h3v1h-3zM267 704h2v1h-2zM622 656h9v1h-9zM434 671h10v1h-10zM299 657h9v1h-9zM631 657h2v1h-2zM14 598h2v1h-2zM295 659h2v1h-2zM5 595h6v1h-6zM263 706h2v1h-2zM38 638h2v1h-2zM455 678h3v1h-3zM462 678h2v1h-2zM57 651h2v1h-2zM587 696h2v1h-2zM344 714h7v1h-7zM248 710h4v1h-4zM256 710h2v1h-2zM370 710h3v1h-3zM592 693h2v1h-2zM11 596h2v1h-2zM449 674h2v1h-2zM503 620h3v1h-3zM514 620h3v1h-3zM520 623h2v1h-2zM265 705h2v1h-2zM452 676h2v1h-2zM297 658h2v1h-2zM308 658h3v1h-3zM633 658h4v1h-4zM106 582h2v1h-2zM111 582h14v1h-14zM506 619h8v1h-8zM49 645h2v1h-2zM152 645h3v1h-3zM252 711h4v1h-4zM356 711h14v1h-14zM564 701h9v1h-9zM244 708h2v1h-2zM260 708h2v1h-2zM431 669h2v1h-2zM196 589h5v1h-5zM664 605h2v1h-2zM108 583h3v1h-3zM125 583h2v1h-2zM458 679h4v1h-4zM353 712h3v1h-3zM447 673h2v1h-2zM517 621h2v1h-2zM560 699h2v1h-2zM578 699h3v1h-3zM273 700h2v1h-2zM562 700h2v1h-2zM573 700h5v1h-5zM155 646h2v1h-2zM596 690h2v1h-2zM584 697h3v1h-3zM408 654h2v1h-2zM419 654h2v1h-2zM444 672h3v1h-3zM100 579h2v1h-2zM270 702h2v1h-2zM98 580h2v1h-2zM102 580h2v1h-2zM59 652h2v1h-2zM66 652h2v1h-2zM412 652h5v1h-5zM44 641h2v1h-2zM246 709h2v1h-2zM258 709h2v1h-2zM373 709h2v1h-2zM589 695h2v1h-2zM40 639h2v1h-2zM54 649h2v1h-2zM104 581h2v1h-2zM704 531h2v1h-2zM351 713h2v1h-2zM670 598h1v2h-1zM93 587h1v2h-1zM330 697h1v2h-1zM235 689h1v3h-1zM682 572h1v3h-1zM31 629h1v2h-1zM228 667h1v3h-1zM406 656h1v1h-1zM641 657h1v1h-1zM221 645h1v4h-1zM398 669h1v2h-1zM149 639h1v2h-1zM32 631h1v1h-1zM134 597h1v3h-1zM687 562h1v2h-1zM242 705h1v2h-1zM699 536h1v1h-1zM131 591h1v2h-1zM217 630h1v4h-1zM231 676h1v3h-1zM68 651h1v1h-1zM80 623h1v3h-1zM403 659h1v2h-1zM532 640h1v3h-1zM145 629h1v2h-1zM191 595h1v2h-1zM210 607h1v4h-1zM394 677h1v2h-1zM314 665h1v2h-1zM213 619h1v3h-1zM72 643h1v2h-1zM695 542h1v2h-1zM171 623h1v2h-1zM315 667h1v2h-1zM378 705h1v1h-1zM539 657h1v3h-1zM528 631h1v2h-1zM474 659h1v2h-1zM151 643h1v2h-1zM288 668h1v3h-1zM17 600h1v2h-1zM206 597h1v2h-1zM77 631h1v3h-1zM187 603h1v1h-1zM207 599h1v2h-1zM706 530h1v1h-1zM637 659h1v1h-1zM84 612h1v3h-1zM535 648h1v2h-1zM167 629h1v2h-1zM272 701h1v1h-1zM638 660h1v1h-1zM88 600h1v3h-1zM454 677h1v1h-1zM92 589h1v3h-1zM549 685h1v2h-1zM19 604h1v2h-1zM490 635h1v2h-1zM20 606h1v2h-1zM594 692h1v1h-1zM96 582h1v2h-1zM485 642h1v2h-1zM610 673h1v2h-1zM673 593h1v2h-1zM545 673h1v2h-1zM689 557h1v2h-1zM325 688h1v2h-1zM234 686h1v3h-1zM546 675h1v3h-1zM393 679h1v2h-1zM678 583h1v2h-1zM27 620h1v3h-1zM614 666h1v1h-1zM681 575h1v2h-1zM30 627h1v2h-1zM606 679h1v2h-1zM669 600h1v2h-1zM694 544h1v2h-1zM220 642h1v3h-1zM130 589h1v2h-1zM170 625h1v1h-1zM552 690h1v1h-1zM473 661h1v2h-1zM194 591h1v1h-1zM553 691h1v2h-1zM286 673h1v2h-1zM601 686h1v1h-1zM223 653h1v3h-1zM141 619h1v3h-1zM83 615h1v3h-1zM328 693h1v2h-1zM229 670h1v3h-1zM645 645h1v4h-1zM477 655h1v1h-1zM137 605h1v4h-1zM291 663h1v1h-1zM331 699h1v1h-1zM87 603h1v3h-1zM33 632h1v2h-1zM190 597h1v2h-1zM205 595h1v2h-1zM332 700h1v2h-1zM147 634h1v3h-1zM34 634h1v1h-1zM653 622h1v3h-1zM140 615h1v4h-1zM240 701h1v2h-1zM283 680h1v3h-1zM148 637h1v2h-1zM243 707h1v1h-1zM216 627h1v3h-1zM465 676h1v1h-1zM143 625h1v2h-1zM186 604h1v2h-1zM136 602h1v3h-1zM313 663h1v2h-1zM493 631h1v2h-1zM219 638h1v4h-1zM212 615h1v4h-1zM677 585h1v2h-1zM150 641h1v2h-1zM701 534h1v1h-1zM18 602h1v2h-1zM538 655h1v2h-1zM208 601h1v3h-1zM335 705h1v1h-1zM91 592h1v2h-1zM613 667h1v2h-1zM693 546h1v3h-1zM680 577h1v3h-1zM480 651h1v1h-1zM405 657h1v1h-1zM430 668h1v1h-1zM178 614h1v1h-1zM321 680h1v2h-1zM544 670h1v3h-1zM685 566h1v2h-1zM324 686h1v2h-1zM534 645h1v3h-1zM609 675h1v2h-1zM78 628h1v3h-1zM688 559h1v3h-1zM173 620h1v2h-1zM401 663h1v2h-1zM468 672h1v2h-1zM82 618h1v2h-1zM644 649h1v3h-1zM277 695h1v2h-1zM392 681h1v3h-1zM548 682h1v3h-1zM189 599h1v2h-1zM648 636h1v3h-1zM523 625h1v1h-1zM282 683h1v3h-1zM169 626h1v2h-1zM323 684h1v2h-1zM222 649h1v4h-1zM423 659h1v2h-1zM28 623h1v2h-1zM285 675h1v3h-1zM233 682h1v4h-1zM380 702h1v2h-1zM29 625h1v2h-1zM226 661h1v3h-1zM492 633h1v1h-1zM341 711h1v1h-1zM128 585h1v2h-1zM290 664h1v2h-1zM554 693h1v1h-1zM342 712h1v1h-1zM139 612h1v3h-1zM239 698h1v3h-1zM86 606h1v3h-1zM652 625h1v3h-1zM555 694h1v1h-1zM142 622h1v3h-1zM90 594h1v3h-1zM656 615h1v2h-1zM679 580h1v3h-1zM215 625h1v2h-1zM530 635h1v3h-1zM691 552h1v3h-1zM135 600h1v2h-1zM312 661h1v2h-1zM333 702h1v1h-1zM218 634h1v4h-1zM616 663h1v2h-1zM203 592h1v1h-1zM483 645h1v2h-1zM211 611h1v4h-1zM334 703h1v2h-1zM608 677h1v1h-1zM204 593h1v2h-1zM35 635h1v1h-1zM172 622h1v1h-1zM676 587h1v2h-1zM36 636h1v1h-1zM214 622h1v3h-1zM391 684h1v2h-1zM319 676h1v2h-1zM603 683h1v1h-1zM612 669h1v2h-1zM692 549h1v3h-1zM479 652h1v2h-1zM471 665h1v3h-1zM281 686h1v2h-1zM284 678h1v2h-1zM547 678h1v4h-1zM643 652h1v3h-1zM81 620h1v3h-1zM322 682h1v2h-1zM467 674h1v1h-1zM647 639h1v3h-1zM289 666h1v2h-1zM543 668h1v2h-1zM651 628h1v3h-1zM495 628h1v2h-1zM707 527h1v3h-1zM654 619h1v3h-1zM615 665h1v1h-1zM698 537h1v2h-1zM525 627h1v2h-1zM180 612h1v1h-1zM421 655h1v2h-1zM422 657h1v2h-1zM390 686h1v2h-1zM175 617h1v2h-1zM486 641h1v1h-1zM611 671h1v2h-1zM655 617h1v2h-1zM690 555h1v2h-1zM227 664h1v3h-1zM502 621h1v1h-1zM138 609h1v3h-1zM238 696h1v2h-1zM13 597h1v1h-1zM482 647h1v2h-1zM76 634h1v2h-1zM642 655h1v2h-1zM424 661h1v1h-1zM557 696h1v1h-1zM646 642h1v3h-1zM425 662h1v1h-1zM382 700h1v1h-1zM591 694h1v1h-1zM280 688h1v3h-1zM649 634h1v2h-1zM661 608h1v2h-1zM494 630h1v1h-1zM710 519h1v3h-1zM470 668h1v2h-1zM377 706h1v1h-1zM318 674h1v2h-1zM531 638h1v2h-1zM658 612h1v2h-1zM209 604h1v3h-1zM542 665h1v3h-1zM618 661h1v1h-1zM23 612h1v2h-1zM159 641h1v2h-1zM650 631h1v3h-1zM75 636h1v3h-1zM385 695h1v2h-1zM481 649h1v2h-1zM697 539h1v2h-1zM389 688h1v2h-1zM26 618h1v2h-1zM236 692h1v2h-1zM144 627h1v2h-1zM279 691h1v2h-1zM237 694h1v2h-1zM469 670h1v2h-1zM708 524h1v3h-1zM230 673h1v3h-1zM497 625h1v2h-1zM133 595h1v2h-1zM287 671h1v2h-1zM146 631h1v3h-1zM602 684h1v2h-1zM158 643h1v1h-1zM709 522h1v2h-1zM317 672h1v2h-1zM404 658h1v1h-1zM488 638h1v2h-1zM162 636h1v2h-1zM527 630h1v1h-1zM177 615h1v1h-1zM684 568h1v2h-1zM657 614h1v1h-1zM388 690h1v2h-1zM400 665h1v2h-1zM537 652h1v3h-1zM338 708h1v1h-1zM316 669h1v3h-1zM700 535h1v1h-1zM540 660h1v3h-1zM384 697h1v2h-1zM639 659h1v1h-1zM541 663h1v2h-1zM25 616h1v2h-1zM74 639h1v2h-1zM22 610h1v2h-1zM294 660h1v1h-1zM379 704h1v1h-1zM660 610h1v1h-1zM201 590h1v1h-1zM278 693h1v2h-1zM376 707h1v1h-1zM129 587h1v2h-1zM620 658h1v2h-1zM224 656h1v3h-1zM132 593h1v2h-1zM232 679h1v3h-1zM433 670h1v1h-1zM161 638h1v1h-1zM225 659h1v2h-1zM491 634h1v1h-1zM157 644h1v2h-1zM675 589h1v2h-1zM667 603h1v1h-1zM181 611h1v1h-1zM73 641h1v2h-1zM533 643h1v2h-1zM683 570h1v2h-1zM607 678h1v1h-1zM387 692h1v2h-1zM484 644h1v1h-1zM399 667h1v2h-1zM466 675h1v1h-1zM499 623h1v1h-1zM529 633h1v2h-1zM21 608h1v2h-1zM292 662h1v1h-1zM85 609h1v3h-1zM192 593h1v2h-1zM429 667h1v1h-1zM326 690h1v2h-1zM160 639h1v2h-1zM184 607h1v2h-1zM56 650h1v1h-1zM89 597h1v3h-1zM46 642h1v1h-1zM340 710h1v1h-1zM179 613h1v1h-1zM127 584h1v1h-1zM550 687h1v2h-1zM674 591h1v2h-1zM686 564h1v2h-1zM619 660h1v1h-1zM402 661h1v2h-1zM702 533h1v1h-1zM329 695h1v2h-1zM241 703h1v2h-1zM381 701h1v1h-1zM176 616h1v1h-1zM311 659h1v2h-1zM52 647h1v1h-1zM202 591h1v1h-1zM16 599h1v1h-1zM53 648h1v1h-1zM276 697h1v2h-1zM662 607h1v1h-1zM183 609h1v1h-1zM559 698h1v1h-1zM598 689h1v1h-1zM397 671h1v2h-1zM48 644h1v1h-1zM71 645h1v2h-1zM262 707h1v1h-1zM640 658h1v1h-1zM327 692h1v1h-1zM79 626h1v2h-1zM166 631h1v1h-1zM496 627h1v1h-1zM672 595h1v2h-1zM95 584h1v1h-1zM70 647h1v2h-1zM383 699h1v1h-1zM489 637h1v1h-1zM320 678h1v2h-1zM396 673h1v2h-1zM293 661h1v1h-1zM476 656h1v2h-1zM165 632h1v2h-1zM605 681h1v1h-1zM472 663h1v2h-1zM711 518h1v1h-1zM193 592h1v1h-1zM600 687h1v1h-1zM703 532h1v1h-1zM94 585h1v2h-1zM185 606h1v1h-1zM522 624h1v1h-1zM659 611h1v1h-1zM269 703h1v1h-1zM407 655h1v1h-1zM375 708h1v1h-1zM426 663h1v2h-1zM395 675h1v2h-1zM386 694h1v1h-1zM666 604h1v1h-1zM69 649h1v2h-1zM168 628h1v1h-1zM451 675h1v1h-1zM163 635h1v1h-1zM336 706h1v1h-1zM536 650h1v2h-1zM337 707h1v1h-1zM498 624h1v1h-1zM188 601h1v2h-1zM97 581h1v1h-1zM24 614h1v2h-1zM595 691h1v1h-1zM478 654h1v1h-1zM343 713h1v1h-1zM524 626h1v1h-1zM556 695h1v1h-1zM275 699h1v1h-1zM195 590h1v1h-1zM428 666h1v1h-1zM182 610h1v1h-1zM37 637h1v1h-1zM621 657h1v1h-1zM427 665h1v1h-1zM668 602h1v1h-1zM519 622h1v1h-1zM339 709h1v1h-1zM174 619h1v1h-1zM464 677h1v1h-1zM526 629h1v1h-1zM51 646h1v1h-1zM558 697h1v1h-1zM671 597h1v1h-1zM696 541h1v1h-1zM475 658h1v1h-1zM617 662h1v1h-1zM47 643h1v1h-1zM551 689h1v1h-1zM604 682h1v1h-1zM663 606h1v1h-1zM599 688h1v1h-1zM164 634h1v1h-1zM487 640h1v1h-1z" fill="#0000ff" shape-rendering="crispEdges"/>
<g shape-rendering="crispEdges">
<rect x="5" y="566" width="1" height="17" fill="#000"/>
<rect x="4" y="575" width="3" height="4" fill="#000"/>
<rect x="5" y="576" width="1" height="2" fill="#fff"/>
<rect x="8" y="561" width="1" height="14" fill="#000"/>
<rect x="7" y="568" width="3" height="4" fill="#000"/>
<rect x="12" y="568" width="1" height="17" fill="#000"/>
<rect x="11" y="570" width="3" height="15" fill="#000"/>
<rect x="15" y="575" width="1" height="33" fill="#000"/>
<rect x="14" y="585" width="3" height="14" fill="#000"/>
<rect x="19" y="602" width="1" height="20" fill="#000"/>
<rect x="18" y="603" width="3" height="19" fill="#000"/>
<rect x="23" y="627" width="1" height="19" fill="#000"/>
<rect x="22" y="629" width="3" height="4" fill="#000"/>
<rect x="26" y="634" width="1" height="12" fill="#000"/>
<rect x="25" y="634" width="3" height="2" fill="#000"/>
<rect x="30" y="623" width="1" height="18" fill="#000"/>
<rect x="29" y="631" width="3" height="9" fill="#000"/>
<rect x="34" y="606" width="1" height="22" fill="#000"/>
<rect x="33" y="612" width="3" height="8" fill="#000"/>
<rect x="34" y="613" width="1" height="6" fill="#fff"/>
<rect x="37" y="613" width="1" height="23" fill="#000"/>
<rect x="36" y="613" width="3" height="18" fill="#000"/>
<rect x="41" y="626" width="1" height="13" fill="#000"/>
<rect x="40" y="630" width="3" height="6" fill="#000"/>
<rect x="45" y="628" width="1" height="11" fill="#000"/>
<rect x="44" y="634" width="3" height="1" fill="#000"/>
<rect x="48" y="624" width="1" height="19" fill="#000"/>
<rect x="47" y="636" width="3" height="6" fill="#000"/>
<rect x="52" y="638" width="1" height="8" fill="#000"/>
<rect x="51" y="638" width="3" height="5" fill="#000"/>
<rect x="56" y="638" width="1" height="18" fill="#000"/>
<rect x="55" y="642" width="3" height="3" fill="#000"/>
<rect x="56" y="643" width="1" height="1" fill="#fff"/>
<rect x="59" y="630" width="1" height="18" fill="#000"/>
<rect x="58" y="631" width="3" height="13" fill="#000"/>
<rect x="59" y="632" width="1" height="11" fill="#fff"/>
<rect x="63" y="626" width="1" height="19" fill="#000"/>
<rect x="62" y="629" width="3" height="6" fill="#000"/>
<rect x="63" y="630" width="1" height="4" fill="#fff"/>
<rect x="67" y="621" width="1" height="12" fill="#000"/>
<rect x="66" y="621" width="3" height="10" fill="#000"/>
<rect x="67" y="622" width="1" height="8" fill="#fff"/>
<rect x="70" y="601" width="1" height="20" fill="#000"/>
<rect x="69" y="602" width="3" height="16" fill="#000"/>
<rect x="70" y="603" width="1" height="14" fill="#fff"/>
<rect x="74" y="585" width="1" height="21" fill="#000"/>
<rect x="73" y="593" width="3" height="8" fill="#000"/>
<rect x="74" y="594" width="1" height="6" fill="#fff"/>
<rect x="78" y="591" width="1" height="20" fill="#000"/>
<rect x="77" y="600" width="3" height="3" fill="#000"/>
<rect x="78" y="601" width="1" height="1" fill="#fff"/>
<rect x="81" y="592" width="1" height="8" fill="#000"/>
<rect x="80" y="594" width="3" height="4" fill="#000"/>
<rect x="81" y="595" width="1" height="2" fill="#fff"/>
<rect x="85" y="582" width="1" height="11" fill="#000"/>
<rect x="84" y="587" width="3" height="5" fill="#000"/>
<rect x="85" y="588" width="1" height="3" fill="#fff"/>
<rect x="89" y="582" width="1" height="10" fill="#000"/>
<rect x="88" y="585" width="3" height="3" fill="#000"/>
<rect x="89" y="586" width="1" height="1" fill="#fff"/>
<rect x="92" y="582" width="1" height="15" fill="#000"/>
<rect x="91" y="587" width="3" height="4" fill="#000"/>
<rect x="96" y="590" width="1" height="21" fill="#000"/>
<rect x="95" y="591" width="3" height="11" fill="#000"/>
<rect x="100" y="604" width="1" height="15" fill="#000"/>
<rect x="99" y="604" width="3" height="13" fill="#000"/>
<rect x="103" y="606" width="1" height="15" fill="#000"/>
<rect x="102" y="608" width="3" height="11" fill="#000"/>
<rect x="103" y="609" width="1" height="9" fill="#fff"/>
<rect x="107" y="591" width="1" height="22" fill="#000"/>
<rect x="106" y="592" width="3" height="12" fill="#000"/>
<rect x="107" y="593" width="1" height="10" fill="#fff"/>
<rect x="111" y="583" width="1" height="10" fill="#000"/>
<rect x="110" y="590" width="3" height="3" fill="#000"/>
<rect x="111" y="591" width="1" height="1" fill="#fff"/>
<rect x="114" y="571" width="1" height="28" fill="#000"/>
<rect x="113" y="583" width="3" height="16" fill="#000"/>
<rect x="118" y="590" width="1" height="13" fill="#000"/>
<rect x="117" y="595" width="3" height="7" fill="#000"/>
<rect x="118" y="596" width="1" height="5" fill="#fff"/>
<rect x="122" y="590" width="1" height="12" fill="#000"/>
<rect x="121" y="596" width="3" height="3" fill="#000"/>
<rect x="122" y="597" width="1" height="1" fill="#fff"/>
<rect x="125" y="586" width="1" height="29" fill="#000"/>
<rect x="124" y="591" width="3" height="22" fill="#000"/>
<rect x="129" y="611" width="1" height="18" fill="#000"/>
<rect x="128" y="611" width="3" height="18" fill="#000"/>
<rect x="133" y="618" width="1" height="25" fill="#000"/>
<rect x="132" y="623" width="3" height="8" fill="#000"/>
<rect x="136" y="612" width="1" height="19" fill="#000"/>
<rect x="135" y="627" width="3" height="4" fill="#000"/>
<rect x="140" y="611" width="1" height="34" fill="#000"/>
<rect x="139" y="631" width="3" height="14" fill="#000"/>
<rect x="144" y="639" width="1" height="13" fill="#000"/>
<rect x="143" y="642" width="3" height="7" fill="#000"/>
<rect x="144" y="643" width="1" height="5" fill="#fff"/>
<rect x="147" y="636" width="1" height="11" fill="#000"/>
<rect x="146" y="640" width="3" height="3" fill="#000"/>
<rect x="147" y="641" width="1" height="1" fill="#fff"/>
<rect x="151" y="618" width="1" height="32" fill="#000"/>
<rect x="150" y="627" width="3" height="20" fill="#000"/>
<rect x="151" y="628" width="1" height="18" fill="#fff"/>
<rect x="155" y="616" width="1" height="15" fill="#000"/>
<rect x="154" y="618" width="3" height="13" fill="#000"/>
<rect x="155" y="619" width="1" height="11" fill="#fff"/>
<rect x="158" y="605" width="1" height="22" fill="#000"/>
<rect x="157" y="609" width="3" height="17" fill="#000"/>
<rect x="158" y="610" width="1" height="15" fill="#fff"/>
<rect x="162" y="594" width="1" height="23" fill="#000"/>
<rect x="161" y="606" width="3" height="1" fill="#000"/>
<rect x="166" y="605" width="1" height="23" fill="#000"/>
<rect x="165" y="614" width="3" height="7" fill="#000"/>
<rect x="169" y="614" width="1" height="12" fill="#000"/>
<rect x="168" y="616" width="3" height="5" fill="#000"/>
<rect x="169" y="617" width="1" height="3" fill="#fff"/>
<rect x="173" y="593" width="1" height="20" fill="#000"/>
<rect x="172" y="594" width="3" height="18" fill="#000"/>
<rect x="173" y="595" width="1" height="16" fill="#fff"/>
<rect x="177" y="594" width="1" height="19" fill="#000"/>
<rect x="176" y="597" width="3" height="16" fill="#000"/>
<rect x="180" y="602" width="1" height="13" fill="#000"/>
<rect x="179" y="607" width="3" height="4" fill="#000"/>
<rect x="184" y="580" width="1" height="34" fill="#000"/>
<rect x="183" y="592" width="3" height="17" fill="#000"/>
<rect x="184" y="593" width="1" height="15" fill="#fff"/>
<rect x="188" y="587" width="1" height="16" fill="#000"/>
<rect x="187" y="594" width="3" height="4" fill="#000"/>
<rect x="188" y="595" width="1" height="2" fill="#fff"/>
<rect x="191" y="584" width="1" height="21" fill="#000"/>
<rect x="190" y="592" width="3" height="3" fill="#000"/>
<rect x="191" y="593" width="1" height="1" fill="#fff"/>
<rect x="195" y="567" width="1" height="40" fill="#000"/>
<rect x="194" y="577" width="3" height="25" fill="#000"/>
<rect x="195" y="578" width="1" height="23" fill="#fff"/>
<rect x="199" y="575" width="1" height="63" fill="#000"/>
<rect x="198" y="577" width="3" height="52" fill="#000"/>
<rect x="202" y="627" width="1" height="13" fill="#000"/>
<rect x="201" y="628" width="3" height="1" fill="#000"/>
<rect x="206" y="627" width="1" height="15" fill="#000"/>
<rect x="205" y="628" width="3" height="7" fill="#000"/>
<rect x="210" y="624" width="1" height="22" fill="#000"/>
<rect x="209" y="628" width="3" height="14" fill="#000"/>
<rect x="213" y="641" width="1" height="16" fill="#000"/>
<rect x="212" y="642" width="3" height="11" fill="#000"/>
<rect x="217" y="652" width="1" height="10" fill="#000"/>
<rect x="216" y="652" width="3" height="7" fill="#000"/>
<rect x="221" y="666" width="1" height="17" fill="#000"/>
<rect x="220" y="667" width="3" height="12" fill="#000"/>
<rect x="224" y="679" width="1" height="12" fill="#000"/>
<rect x="223" y="681" width="3" height="6" fill="#000"/>
<rect x="228" y="677" width="1" height="16" fill="#000"/>
<rect x="227" y="687" width="3" height="5" fill="#000"/>
<rect x="228" y="688" width="1" height="3" fill="#fff"/>
<rect x="232" y="695" width="1" height="15" fill="#000"/>
<rect x="231" y="697" width="3" height="12" fill="#000"/>
<rect x="235" y="706" width="1" height="13" fill="#000"/>
<rect x="234" y="707" width="3" height="11" fill="#000"/>
<rect x="235" y="708" width="1" height="9" fill="#fff"/>
<rect x="239" y="702" width="1" height="23" fill="#000"/>
<rect x="238" y="702" width="3" height="17" fill="#000"/>
<rect x="239" y="703" width="1" height="15" fill="#fff"/>
<rect x="242" y="691" width="1" height="20" fill="#000"/>
<rect x="241" y="691" width="3" height="20" fill="#000"/>
<rect x="246" y="692" width="1" height="26" fill="#000"/>
<rect x="245" y="702" width="3" height="12" fill="#000"/>
<rect x="250" y="696" width="1" height="17" fill="#000"/>
<rect x="249" y="698" width="3" height="8" fill="#000"/>
<rect x="250" y="699" width="1" height="6" fill="#fff"/>
<rect x="253" y="694" width="1" height="6" fill="#000"/>
<rect x="252" y="695" width="3" height="4" fill="#000"/>
<rect x="253" y="696" width="1" height="2" fill="#fff"/>
<rect x="257" y="683" width="1" height="11" fill="#000"/>
<rect x="256" y="687" width="3" height="4" fill="#000"/>
<rect x="257" y="688" width="1" height="2" fill="#fff"/>
<rect x="261" y="682" width="1" height="7" fill="#000"/>
<rect x="260" y="686" width="3" height="1" fill="#000"/>
<rect x="264" y="687" width="1" height="9" fill="#000"/>
<rect x="263" y="688" width="3" height="1" fill="#000"/>
<rect x="268" y="679" width="1" height="17" fill="#000"/>
<rect x="267" y="681" width="3" height="8" fill="#000"/>
<rect x="268" y="682" width="1" height="6" fill="#fff"/>
<rect x="272" y="676" width="1" height="11" fill="#000"/>
<rect x="271" y="684" width="3" height="2" fill="#000"/>
<rect x="275" y="671" width="1" height="13" fill="#000"/>
<rect x="274" y="672" width="3" height="11" fill="#000"/>
<rect x="275" y="673" width="1" height="9" fill="#fff"/>
<rect x="279" y="647" width="1" height="17" fill="#000"/>
<rect x="278" y="649" width="3" height="15" fill="#000"/>
<rect x="279" y="650" width="1" height="13" fill="#fff"/>
<rect x="283" y="644" width="1" height="16" fill="#000"/>
<rect x="282" y="648" width="3" height="6" fill="#000"/>
<rect x="286" y="656" width="1" height="7" fill="#000"/>
<rect x="285" y="656" width="3" height="5" fill="#000"/>
<rect x="290" y="657" width="1" height="10" fill="#000"/>
<rect x="289" y="661" width="3" height="5" fill="#000"/>
<rect x="294" y="664" width="1" height="8" fill="#000"/>
<rect x="293" y="665" width="3" height="6" fill="#000"/>
<rect x="297" y="666" width="1" height="11" fill="#000"/>
<rect x="296" y="667" width="3" height="7" fill="#000"/>
<rect x="297" y="668" width="1" height="5" fill="#fff"/>
<rect x="301" y="666" width="1" height="8" fill="#000"/>
<rect x="300" y="667" width="3" height="1" fill="#000"/>
<rect x="305" y="660" width="1" height="6" fill="#000"/>
<rect x="304" y="663" width="3" height="1" fill="#000"/>
<rect x="308" y="665" width="1" height="14" fill="#000"/>
<rect x="307" y="666" width="3" height="13" fill="#000"/>
<rect x="312" y="680" width="1" height="20" fill="#000"/>
<rect x="311" y="681" width="3" height="19" fill="#000"/>
<rect x="316" y="697" width="1" height="15" fill="#000"/>
<rect x="315" y="698" width="3" height="13" fill="#000"/>
<rect x="319" y="680" width="1" height="34" fill="#000"/>
<rect x="318" y="681" width="3" height="14" fill="#000"/>
<rect x="323" y="681" width="1" height="22" fill="#000"/>
<rect x="322" y="694" width="3" height="7" fill="#000"/>
<rect x="327" y="687" width="1" height="14" fill="#000"/>
<rect x="326" y="692" width="3" height="3" fill="#000"/>
<rect x="327" y="693" width="1" height="1" fill="#fff"/>
<rect x="330" y="691" width="1" height="12" fill="#000"/>
<rect x="329" y="691" width="3" height="12" fill="#000"/>
<rect x="334" y="701" width="1" height="17" fill="#000"/>
<rect x="333" y="701" width="3" height="17" fill="#000"/>
<rect x="338" y="710" width="1" height="15" fill="#000"/>
<rect x="337" y="711" width="3" height="7" fill="#000"/>
<rect x="338" y="712" width="1" height="5" fill="#fff"/>
<rect x="341" y="704" width="1" height="7" fill="#000"/>
<rect x="340" y="706" width="3" height="3" fill="#000"/>
<rect x="341" y="707" width="1" height="1" fill="#fff"/>
<rect x="345" y="695" width="1" height="10" fill="#000"/>
<rect x="344" y="701" width="3" height="3" fill="#000"/>
<rect x="345" y="702" width="1" height="1" fill="#fff"/>
<rect x="349" y="697" width="1" height="7" fill="#000"/>
<rect x="348" y="698" width="3" height="3" fill="#000"/>
<rect x="349" y="699" width="1" height="1" fill="#fff"/>
<rect x="352" y="700" width="1" height="11" fill="#000"/>
<rect x="351" y="701" width="3" height="3" fill="#000"/>
<rect x="356" y="700" width="1" height="6" fill="#000"/>
<rect x="355" y="702" width="3" height="4" fill="#000"/>
<rect x="356" y="703" width="1" height="2" fill="#fff"/>
<rect x="360" y="703" width="1" height="4" fill="#000"/>
<rect x="359" y="704" width="3" height="2" fill="#000"/>
<rect x="363" y="702" width="1" height="6" fill="#000"/>
<rect x="362" y="703" width="3" height="3" fill="#000"/>
<rect x="367" y="696" width="1" height="12" fill="#000"/>
<rect x="366" y="702" width="3" height="4" fill="#000"/>
<rect x="367" y="703" width="1" height="2" fill="#fff"/>
<rect x="371" y="693" width="1" height="11" fill="#000"/>
<rect x="370" y="695" width="3" height="6" fill="#000"/>
<rect x="371" y="696" width="1" height="4" fill="#fff"/>
<rect x="374" y="696" width="1" height="12" fill="#000"/>
<rect x="373" y="696" width="3" height="2" fill="#000"/>
<rect x="378" y="681" width="1" height="20" fill="#000"/>
<rect x="377" y="683" width="3" height="13" fill="#000"/>
<rect x="378" y="684" width="1" height="11" fill="#fff"/>
<rect x="382" y="671" width="1" height="19" fill="#000"/>
<rect x="381" y="679" width="3" height="8" fill="#000"/>
<rect x="382" y="680" width="1" height="6" fill="#fff"/>
<rect x="385" y="672" width="1" height="9" fill="#000"/>
<rect x="384" y="678" width="3" height="1" fill="#000"/>
<rect x="389" y="675" width="1" height="8" fill="#000"/>
<rect x="388" y="678" width="3" height="2" fill="#000"/>
<rect x="393" y="662" width="1" height="16" fill="#000"/>
<rect x="392" y="663" width="3" height="11" fill="#000"/>
<rect x="393" y="664" width="1" height="9" fill="#fff"/>
<rect x="396" y="656" width="1" height="10" fill="#000"/>
<rect x="395" y="660" width="3" height="6" fill="#000"/>
<rect x="400" y="655" width="1" height="9" fill="#000"/>
<rect x="399" y="659" width="3" height="5" fill="#000"/>
<rect x="400" y="660" width="1" height="3" fill="#fff"/>
<rect x="404" y="653" width="1" height="9" fill="#000"/>
<rect x="403" y="656" width="3" height="6" fill="#000"/>
<rect x="407" y="662" width="1" height="5" fill="#000"/>
<rect x="406" y="663" width="3" height="3" fill="#000"/>
<rect x="411" y="664" width="1" height="9" fill="#000"/>
<rect x="410" y="666" width="3" height="3" fill="#000"/>
<rect x="411" y="667" width="1" height="1" fill="#fff"/>
<rect x="415" y="659" width="1" height="17" fill="#000"/>
<rect x="414" y="662" width="3" height="8" fill="#000"/>
<rect x="418" y="666" width="1" height="16" fill="#000"/>
<rect x="417" y="668" width="3" height="13" fill="#000"/>
<rect x="422" y="677" width="1" height="10" fill="#000"/>
<rect x="421" y="681" width="3" height="4" fill="#000"/>
<rect x="426" y="678" width="1" height="11" fill="#000"/>
<rect x="425" y="678" width="3" height="2" fill="#000"/>
<rect x="429" y="679" width="1" height="6" fill="#000"/>
<rect x="428" y="679" width="3" height="1" fill="#000"/>
<rect x="433" y="671" width="1" height="7" fill="#000"/>
<rect x="432" y="673" width="3" height="3" fill="#000"/>
<rect x="433" y="674" width="1" height="1" fill="#fff"/>
<rect x="437" y="672" width="1" height="13" fill="#000"/>
<rect x="436" y="672" width="3" height="1" fill="#000"/>
<rect x="440" y="673" width="1" height="7" fill="#000"/>
<rect x="439" y="673" width="3" height="5" fill="#000"/>
<rect x="444" y="676" width="1" height="7" fill="#000"/>
<rect x="443" y="676" width="3" height="4" fill="#000"/>
<rect x="448" y="676" width="1" height="8" fill="#000"/>
<rect x="447" y="681" width="3" height="2" fill="#000"/>
<rect x="451" y="678" width="1" height="9" fill="#000"/>
<rect x="450" y="680" width="3" height="4" fill="#000"/>
<rect x="451" y="681" width="1" height="2" fill="#fff"/>
<rect x="455" y="671" width="1" height="9" fill="#000"/>
<rect x="454" y="674" width="3" height="5" fill="#000"/>
<rect x="455" y="675" width="1" height="3" fill="#fff"/>
<rect x="459" y="668" width="1" height="10" fill="#000"/>
<rect x="458" y="669" width="3" height="3" fill="#000"/>
<rect x="459" y="670" width="1" height="1" fill="#fff"/>
<rect x="462" y="658" width="1" height="16" fill="#000"/>
<rect x="461" y="664" width="3" height="6" fill="#000"/>
<rect x="462" y="665" width="1" height="4" fill="#fff"/>
<rect x="466" y="659" width="1" height="6" fill="#000"/>
<rect x="465" y="660" width="3" height="4" fill="#000"/>
<rect x="466" y="661" width="1" height="2" fill="#fff"/>
<rect x="470" y="651" width="1" height="8" fill="#000"/>
<rect x="469" y="652" width="3" height="6" fill="#000"/>
<rect x="470" y="653" width="1" height="4" fill="#fff"/>
<rect x="473" y="647" width="1" height="9" fill="#000"/>
<rect x="472" y="651" width="3" height="2" fill="#000"/>
<rect x="477" y="653" width="1" height="5" fill="#000"/>
<rect x="476" y="654" width="3" height="3" fill="#000"/>
<rect x="480" y="651" width="1" height="7" fill="#000"/>
<rect x="479" y="653" width="3" height="3" fill="#000"/>
<rect x="480" y="654" width="1" height="1" fill="#fff"/>
<rect x="484" y="649" width="1" height="9" fill="#000"/>
<rect x="483" y="651" width="3" height="2" fill="#000"/>
<rect x="488" y="633" width="1" height="18" fill="#000"/>
<rect x="487" y="638" width="3" height="13" fill="#000"/>
<rect x="488" y="639" width="1" height="11" fill="#fff"/>
<rect x="491" y="625" width="1" height="12" fill="#000"/>
<rect x="490" y="626" width="3" height="10" fill="#000"/>
<rect x="491" y="627" width="1" height="8" fill="#fff"/>
<rect x="495" y="614" width="1" height="13" fill="#000"/>
<rect x="494" y="622" width="3" height="2" fill="#000"/>
<rect x="499" y="612" width="1" height="17" fill="#000"/>
<rect x="498" y="613" width="3" height="15" fill="#000"/>
<rect x="502" y="628" width="1" height="16" fill="#000"/>
<rect x="501" y="629" width="3" height="7" fill="#000"/>
<rect x="506" y="619" width="1" height="20" fill="#000"/>
<rect x="505" y="623" width="3" height="12" fill="#000"/>
<rect x="506" y="624" width="1" height="10" fill="#fff"/>
<rect x="510" y="624" width="1" height="12" fill="#000"/>
<rect x="509" y="624" width="3" height="10" fill="#000"/>
<rect x="513" y="631" width="1" height="11" fill="#000"/>
<rect x="512" y="633" width="3" height="2" fill="#000"/>
<rect x="517" y="631" width="1" height="11" fill="#000"/>
<rect x="516" y="633" width="3" height="8" fill="#000"/>
<rect x="521" y="638" width="1" height="15" fill="#000"/>
<rect x="520" y="638" width="3" height="14" fill="#000"/>
<rect x="524" y="638" width="1" height="12" fill="#000"/>
<rect x="523" y="638" width="3" height="11" fill="#000"/>
<rect x="524" y="639" width="1" height="9" fill="#fff"/>
<rect x="528" y="636" width="1" height="34" fill="#000"/>
<rect x="527" y="641" width="3" height="25" fill="#000"/>
<rect x="532" y="665" width="1" height="7" fill="#000"/>
<rect x="531" y="669" width="3" height="2" fill="#000"/>
<rect x="535" y="664" width="1" height="9" fill="#000"/>
<rect x="534" y="669" width="3" height="3" fill="#000"/>
<rect x="535" y="670" width="1" height="1" fill="#fff"/>
<rect x="539" y="666" width="1" height="6" fill="#000"/>
<rect x="538" y="666" width="3" height="6" fill="#000"/>
<rect x="543" y="670" width="1" height="21" fill="#000"/>
<rect x="542" y="671" width="3" height="20" fill="#000"/>
<rect x="546" y="688" width="1" height="10" fill="#000"/>
<rect x="545" y="689" width="3" height="7" fill="#000"/>
<rect x="550" y="688" width="1" height="11" fill="#000"/>
<rect x="549" y="688" width="3" height="9" fill="#000"/>
<rect x="550" y="689" width="1" height="7" fill="#fff"/>
<rect x="554" y="687" width="1" height="11" fill="#000"/>
<rect x="553" y="690" width="3" height="7" fill="#000"/>
<rect x="557" y="685" width="1" height="10" fill="#000"/>
<rect x="556" y="686" width="3" height="8" fill="#000"/>
<rect x="557" y="687" width="1" height="6" fill="#fff"/>
<rect x="561" y="678" width="1" height="9" fill="#000"/>
<rect x="560" y="683" width="3" height="3" fill="#000"/>
<rect x="565" y="688" width="1" height="4" fill="#000"/>
<rect x="564" y="689" width="3" height="2" fill="#000"/>
<rect x="568" y="676" width="1" height="13" fill="#000"/>
<rect x="567" y="680" width="3" height="8" fill="#000"/>
<rect x="568" y="681" width="1" height="6" fill="#fff"/>
<rect x="572" y="678" width="1" height="7" fill="#000"/>
<rect x="571" y="681" width="3" height="1" fill="#000"/>
<rect x="576" y="682" width="1" height="7" fill="#000"/>
<rect x="575" y="683" width="3" height="5" fill="#000"/>
<rect x="579" y="684" width="1" height="7" fill="#000"/>
<rect x="578" y="686" width="3" height="3" fill="#000"/>
<rect x="579" y="687" width="1" height="1" fill="#fff"/>
<rect x="583" y="683" width="1" height="9" fill="#000"/>
<rect x="582" y="683" width="3" height="4" fill="#000"/>
<rect x="583" y="684" width="1" height="2" fill="#fff"/>
<rect x="587" y="667" width="1" height="17" fill="#000"/>
<rect x="586" y="670" width="3" height="13" fill="#000"/>
<rect x="587" y="671" width="1" height="11" fill="#fff"/>
<rect x="590" y="671" width="1" height="10" fill="#000"/>
<rect x="589" y="673" width="3" height="7" fill="#000"/>
<rect x="594" y="675" width="1" height="6" fill="#000"/>
<rect x="593" y="675" width="3" height="2" fill="#000"/>
<rect x="598" y="675" width="1" height="3" fill="#000"/>
<rect x="597" y="676" width="3" height="1" fill="#000"/>
<rect x="601" y="667" width="1" height="5" fill="#000"/>
<rect x="600" y="670" width="3" height="2" fill="#000"/>
<rect x="605" y="668" width="1" height="5" fill="#000"/>
<rect x="604" y="668" width="3" height="4" fill="#000"/>
<rect x="609" y="662" width="1" height="16" fill="#000"/>
<rect x="608" y="667" width="3" height="5" fill="#000"/>
<rect x="609" y="668" width="1" height="3" fill="#fff"/>
<rect x="612" y="659" width="1" height="12" fill="#000"/>
<rect x="611" y="663" width="3" height="5" fill="#000"/>
<rect x="612" y="664" width="1" height="3" fill="#fff"/>
<rect x="616" y="663" width="1" height="8" fill="#000"/>
<rect x="615" y="663" width="3" height="4" fill="#000"/>
<rect x="620" y="657" width="1" height="11" fill="#000"/>
<rect x="619" y="661" width="3" height="5" fill="#000"/>
<rect x="623" y="666" width="1" height="6" fill="#000"/>
<rect x="622" y="666" width="3" height="6" fill="#000"/>
<rect x="627" y="669" width="1" height="3" fill="#000"/>
<rect x="626" y="670" width="3" height="2" fill="#000"/>
<rect x="631" y="667" width="1" height="5" fill="#000"/>
<rect x="630" y="670" width="3" height="2" fill="#000"/>
<rect x="634" y="665" width="1" height="7" fill="#000"/>
<rect x="633" y="668" width="3" height="4" fill="#000"/>
<rect x="634" y="669" width="1" height="2" fill="#fff"/>
<rect x="638" y="664" width="1" height="8" fill="#000"/>
<rect x="637" y="664" width="3" height="8" fill="#000"/>
<rect x="642" y="564" width="1" height="54" fill="#000"/>
<rect x="641" y="570" width="3" height="13" fill="#000"/>
<rect x="645" y="562" width="1" height="40" fill="#000"/>
<rect x="644" y="587" width="3" height="15" fill="#000"/>
<rect x="649" y="593" width="1" height="21" fill="#000"/>
<rect x="648" y="604" width="3" height="2" fill="#000"/>
<rect x="653" y="578" width="1" height="28" fill="#000"/>
<rect x="652" y="580" width="3" height="25" fill="#000"/>
<rect x="653" y="581" width="1" height="23" fill="#fff"/>
<rect x="656" y="580" width="1" height="28" fill="#000"/>
<rect x="655" y="583" width="3" height="25" fill="#000"/>
<rect x="660" y="592" width="1" height="16" fill="#000"/>
<rect x="659" y="599" width="3" height="9" fill="#000"/>
<rect x="660" y="600" width="1" height="7" fill="#fff"/>
<rect x="664" y="599" width="1" height="12" fill="#000"/>
<rect x="663" y="602" width="3" height="5" fill="#000"/>
<rect x="667" y="594" width="1" height="13" fill="#000"/>
<rect x="666" y="595" width="3" height="11" fill="#000"/>
<rect x="667" y="596" width="1" height="9" fill="#fff"/>
<rect x="671" y="596" width="1" height="9" fill="#000"/>
<rect x="670" y="599" width="3" height="3" fill="#000"/>
<rect x="671" y="600" width="1" height="1" fill="#fff"/>
<rect x="675" y="559" width="1" height="40" fill="#000"/>
<rect x="674" y="559" width="3" height="39" fill="#000"/>
<rect x="675" y="560" width="1" height="37" fill="#fff"/>
<rect x="678" y="559" width="1" height="14" fill="#000"/>
<rect x="677" y="559" width="3" height="8" fill="#000"/>
<rect x="682" y="559" width="1" height="17" fill="#000"/>
<rect x="681" y="562" width="3" height="7" fill="#000"/>
<rect x="682" y="563" width="1" height="5" fill="#fff"/>
<rect x="686" y="550" width="1" height="14" fill="#000"/>
<rect x="685" y="559" width="3" height="5" fill="#000"/>
<rect x="686" y="560" width="1" height="3" fill="#fff"/>
<rect x="689" y="547" width="1" height="12" fill="#000"/>
<rect x="688" y="553" width="3" height="4" fill="#000"/>
<rect x="689" y="554" width="1" height="2" fill="#fff"/>
<rect x="693" y="545" width="1" height="10" fill="#000"/>
<rect x="692" y="549" width="3" height="3" fill="#000"/>
<rect x="693" y="550" width="1" height="1" fill="#fff"/>
<rect x="697" y="544" width="1" height="13" fill="#000"/>
<rect x="696" y="545" width="3" height="7" fill="#000"/>
<rect x="700" y="551" width="1" height="19" fill="#000"/>
<rect x="699" y="554" width="3" height="11" fill="#000"/>
<rect x="704" y="548" width="1" height="13" fill="#000"/>
<rect x="703" y="550" width="3" height="11" fill="#000"/>
<rect x="704" y="551" width="1" height="9" fill="#fff"/>
<rect x="708" y="518" width="1" height="34" fill="#000"/>
<rect x="707" y="519" width="3" height="32" fill="#000"/>
<rect x="708" y="520" width="1" height="30" fill="#fff"/>
<rect x="711" y="445" width="1" height="71" fill="#000"/>
<rect x="710" y="453" width="3" height="61" fill="#000"/>
<rect x="711" y="454" width="1" height="59" fill="#fff"/>
</g>
<g shape-rendering="crispEdges">
<rect x="102" y="584" width="3" height="6" fill="#ff0000"/>
<rect x="99" y="590" width="9" height="1" fill="#ff0000"/>
<rect x="100" y="591" width="7" height="2" fill="#ff0000"/>
<rect x="101" y="593" width="5" height="2" fill="#ff0000"/>
<rect x="102" y="595" width="3" height="2" fill="#ff0000"/>
<rect x="103" y="597" width="1" height="2" fill="#ff0000"/>
<rect x="124" y="563" width="3" height="6" fill="#ff0000"/>
<rect x="121" y="569" width="9" height="1" fill="#ff0000"/>
<rect x="122" y="570" width="7" height="2" fill="#ff0000"/>
<rect x="123" y="572" width="5" height="2" fill="#ff0000"/>
<rect x="124" y="574" width="3" height="2" fill="#ff0000"/>
<rect x="125" y="576" width="1" height="2" fill="#ff0000"/>
<rect x="201" y="603" width="3" height="6" fill="#ff0000"/>
<rect x="198" y="609" width="9" height="1" fill="#ff0000"/>
<rect x="199" y="610" width="7" height="2" fill="#ff0000"/>
<rect x="200" y="612" width="5" height="2" fill="#ff0000"/>
<rect x="201" y="614" width="3" height="2" fill="#ff0000"/>
<rect x="202" y="616" width="1" height="2" fill="#ff0000"/>
<rect x="307" y="642" width="3" height="6" fill="#ff0000"/>
<rect x="304" y="648" width="9" height="1" fill="#ff0000"/>
<rect x="305" y="649" width="7" height="2" fill="#ff0000"/>
<rect x="306" y="651" width="5" height="2" fill="#ff0000"/>
<rect x="307" y="653" width="3" height="2" fill="#ff0000"/>
<rect x="308" y="655" width="1" height="2" fill="#ff0000"/>
<rect x="417" y="643" width="3" height="6" fill="#ff0000"/>
<rect x="414" y="649" width="9" height="1" fill="#ff0000"/>
<rect x="415" y="650" width="7" height="2" fill="#ff0000"/>
<rect x="416" y="652" width="5" height="2" fill="#ff0000"/>
<rect x="417" y="654" width="3" height="2" fill="#ff0000"/>
<rect x="418" y="656" width="1" height="2" fill="#ff0000"/>
<rect x="512" y="608" width="3" height="6" fill="#ff0000"/>
<rect x="509" y="614" width="9" height="1" fill="#ff0000"/>
<rect x="510" y="615" width="7" height="2" fill="#ff0000"/>
<rect x="511" y="617" width="5" height="2" fill="#ff0000"/>
<rect x="512" y="619" width="3" height="2" fill="#ff0000"/>
<rect x="513" y="621" width="1" height="2" fill="#ff0000"/>
<rect x="630" y="643" width="3" height="6" fill="#ff0000"/>
<rect x="627" y="649" width="9" height="1" fill="#ff0000"/>
<rect x="628" y="650" width="7" height="2" fill="#ff0000"/>
<rect x="629" y="652" width="5" height="2" fill="#ff0000"/>
<rect x="630" y="654" width="3" height="2" fill="#ff0000"/>
<rect x="631" y="656" width="1" height="2" fill="#ff0000"/>
<rect x="63" y="653" width="1" height="2" fill="#009400"/>
<rect x="62" y="655" width="3" height="2" fill="#009400"/>
<rect x="61" y="657" width="5" height="2" fill="#009400"/>
<rect x="60" y="659" width="7" height="2" fill="#009400"/>
<rect x="59" y="661" width="9" height="1" fill="#009400"/>
<rect x="62" y="662" width="3" height="6" fill="#009400"/>
<rect x="158" y="635" width="1" height="2" fill="#009400"/>
<rect x="157" y="637" width="3" height="2" fill="#009400"/>
<rect x="156" y="639" width="5" height="2" fill="#009400"/>
<rect x="155" y="641" width="7" height="2" fill="#009400"/>
<rect x="154" y="643" width="9" height="1" fill="#009400"/>
<rect x="157" y="644" width="3" height="6" fill="#009400"/>
<rect x="257" y="702" width="1" height="2" fill="#009400"/>
<rect x="256" y="704" width="3" height="2" fill="#009400"/>
<rect x="255" y="706" width="5" height="2" fill="#009400"/>
<rect x="254" y="708" width="7" height="2" fill="#009400"/>
<rect x="253" y="710" width="9" height="1" fill="#009400"/>
<rect x="256" y="711" width="3" height="6" fill="#009400"/>
<rect x="352" y="718" width="1" height="2" fill="#009400"/>
<rect x="351" y="720" width="3" height="2" fill="#009400"/>
<rect x="350" y="722" width="5" height="2" fill="#009400"/>
<rect x="349" y="724" width="7" height="2" fill="#009400"/>
<rect x="348" y="726" width="9" height="1" fill="#009400"/>
<rect x="351" y="727" width="3" height="6" fill="#009400"/>
<rect x="462" y="681" width="1" height="2" fill="#009400"/>
<rect x="461" y="683" width="3" height="2" fill="#009400"/>
<rect x="460" y="685" width="5" height="2" fill="#009400"/>
<rect x="459" y="687" width="7" height="2" fill="#009400"/>
<rect x="458" y="689" width="9" height="1" fill="#009400"/>
<rect x="461" y="690" width="3" height="6" fill="#009400"/>
<rect x="572" y="693" width="1" height="2" fill="#009400"/>
<rect x="571" y="695" width="3" height="2" fill="#009400"/>
<rect x="570" y="697" width="5" height="2" fill="#009400"/>
<rect x="569" y="699" width="7" height="2" fill="#009400"/>
<rect x="568" y="701" width="9" height="1" fill="#009400"/>
<rect x="571" y="702" width="3" height="6" fill="#009400"/>
<rect x="642" y="625" width="1" height="2" fill="#009400"/>
<rect x="641" y="627" width="3" height="2" fill="#009400"/>
<rect x="640" y="629" width="5" height="2" fill="#009400"/>
<rect x="639" y="631" width="7" height="2" fill="#009400"/>
<rect x="638" y="633" width="9" height="1" fill="#009400"/>
<rect x="641" y="634" width="3" height="6" fill="#009400"/>
</g>
<g shape-rendering="crispEdges" fill="#000">
<rect x="3" y="5" width="1" height="294"/>
<rect x="719" y="5" width="1" height="294"/>
<rect x="3" y="298" width="717" height="1"/>
<rect x="3" y="5" width="7" height="1"/>
<rect x="460" y="5" width="260" height="1"/>
<rect x="719" y="28" width="5" height="1"/>
<rect x="719" y="69" width="5" height="1"/>
<rect x="719" y="109" width="5" height="1"/>
<rect x="719" y="150" width="5" height="1"/>
<rect x="719" y="191" width="5" height="1"/>
<rect x="719" y="231" width="5" height="1"/>
<rect x="719" y="272" width="5" height="1"/>
</g>
<g shape-rendering="crispEdges" fill="#000">
<rect x="3" y="319" width="1" height="88"/>
<rect x="719" y="319" width="1" height="88"/>
<rect x="3" y="406" width="717" height="1"/>
<rect x="3" y="319" width="7" height="1"/>
<rect x="367" y="319" width="353" height="1"/>
<rect x="719" y="335" width="5" height="1"/>
<rect x="719" y="353" width="5" height="1"/>
<rect x="719" y="371" width="5" height="1"/>
<rect x="719" y="390" width="5" height="1"/>
</g>
<g shape-rendering="crispEdges" fill="#000">
<rect x="3" y="416" width="1" height="316"/>
<rect x="719" y="416" width="1" height="316"/>
<rect x="3" y="731" width="717" height="1"/>
<rect x="3" y="416" width="7" height="1"/>
<rect x="431" y="416" width="289" height="1"/>
<rect x="719" y="454" width="5" height="1"/>
<rect x="719" y="496" width="5" height="1"/>
<rect x="719" y="538" width="5" height="1"/>
<rect x="719" y="579" width="5" height="1"/>
<rect x="719" y="621" width="5" height="1"/>
<rect x="719" y="663" width="5" height="1"/>
<rect x="719" y="704" width="5" height="1"/>
</g>
<g shape-rendering="crispEdges" fill="#000">
<rect x="5" y="298" width="1" height="8"/>
<rect x="78" y="298" width="1" height="8"/>
<rect x="147" y="298" width="1" height="8"/>
<rect x="224" y="298" width="1" height="8"/>
<rect x="301" y="298" width="1" height="8"/>
<rect x="378" y="298" width="1" height="8"/>
<rect x="451" y="298" width="1" height="8"/>
<rect x="532" y="298" width="1" height="8"/>
<rect x="609" y="298" width="1" height="8"/>
<rect x="686" y="298" width="1" height="8"/>
</g>
<text x="9" y="309.5">2025</text>
<text x="82" y="309.5">Feb</text>
<text x="151" y="309.5">Mar</text>
<text x="228" y="309.5">Apr</text>
<text x="305" y="309.5">May</text>
<text x="382" y="309.5">Jun</text>
<text x="455" y="309.5">Jul</text>
<text x="536" y="309.5">Aug</text>
<text x="613" y="309.5">Sep</text>
<text x="690" y="309.5">Oct</text>
<g shape-rendering="crispEdges" fill="#000">
<rect x="5" y="731" width="1" height="8"/>
<rect x="78" y="731" width="1" height="8"/>
<rect x="147" y="731" width="1" height="8"/>
<rect x="224" y="731" width="1" height="8"/>
<rect x="301" y="731" width="1" height="8"/>
<rect x="378" y="731" width="1" height="8"/>
<rect x="451" y="731" width="1" height="8"/>
<rect x="532" y="731" width="1" height="8"/>
<rect x="609" y="731" width="1" height="8"/>
<rect x="686" y="731" width="1" height="8"/>
</g>
<text x="9" y="742.5">2025</text>
<text x="82" y="742.5">Feb</text>
<text x="151" y="742.5">Mar</text>
<text x="228" y="742.5">Apr</text>
<text x="305" y="742.5">May</text>
<text x="382" y="742.5">Jun</text>
<text x="455" y="742.5">Jul</text>
<text x="536" y="742.5">Aug</text>
<text x="613" y="742.5">Sep</text>
<text x="690" y="742.5">Oct</text>
<text x="776" y="31.6" text-anchor="end">10</text>
<text x="776" y="72.6" text-anchor="end">9</text>
<text x="776" y="112.6" text-anchor="end">8</text>
<text x="776" y="153.6" text-anchor="end">7</text>
<text x="776" y="194.6" text-anchor="end">6</text>
<text x="776" y="234.6" text-anchor="end">5</text>
<text x="776" y="275.6" text-anchor="end">4</text>
<text x="776" y="338.6" text-anchor="end">80</text>
<text x="776" y="356.6" text-anchor="end">60</text>
<text x="776" y="374.6" text-anchor="end">40</text>
<text x="776" y="393.6" text-anchor="end">20</text>
<text x="776" y="457.6" text-anchor="end">10</text>
<text x="776" y="499.6" text-anchor="end">9</text>
<text x="776" y="541.6" text-anchor="end">8</text>
<text x="776" y="582.6" text-anchor="end">7</text>
<text x="776" y="624.6" text-anchor="end">6</text>
<text x="776" y="666.6" text-anchor="end">5</text>
<text x="776" y="707.6" text-anchor="end">4</text>
<text x="10.5" y="10.5" textLength="32.4" lengthAdjust="spacing" xml:space="preserve">GLUE</text>
<text x="45.5" y="10.5" xml:space="preserve">-</text>
<text x="53.5" y="10.5" textLength="26.9" lengthAdjust="spacing" xml:space="preserve">Daily</text>
<text x="83.5" y="10.5" textLength="63.9" lengthAdjust="spacing" xml:space="preserve">2025-10-10</text>
<text x="151" y="10.5" textLength="27.9" lengthAdjust="spacing" xml:space="preserve">Open</text>
<text x="182.7" y="10.5" textLength="24.7" lengthAdjust="spacing" xml:space="preserve">8.58</text>
<text x="213.5" y="10.5" textLength="25.4" lengthAdjust="spacing" xml:space="preserve">High</text>
<text x="243.5" y="10.5" textLength="28.9" lengthAdjust="spacing" xml:space="preserve">10.22</text>
<text x="279.3" y="10.5" textLength="23.1" lengthAdjust="spacing" xml:space="preserve">Low</text>
<text x="306" y="10.5" textLength="29.9" lengthAdjust="spacing" xml:space="preserve">8.525</text>
<text x="342.3" y="10.5" textLength="33.1" lengthAdjust="spacing" xml:space="preserve">Close</text>
<text x="379.7" y="10.5" textLength="28.7" lengthAdjust="spacing" xml:space="preserve">10.04</text>
<text x="412.3" y="10.5" textLength="43.3" lengthAdjust="spacing" xml:space="preserve">(18.7%)</text>
<text x="10.3" y="24.4" textLength="15.6" lengthAdjust="spacing" xml:space="preserve">Vol</text>
<text x="30.3" y="24.4" textLength="54.6" lengthAdjust="spacing" xml:space="preserve">6,166,561</text>
<text x="88" y="24.4" style="fill:#ff00ff" textLength="33.4" lengthAdjust="spacing" xml:space="preserve">Res-1</text>
<text x="125.2" y="24.4" xml:space="preserve">=</text>
<text x="136" y="24.4" textLength="24.9" lengthAdjust="spacing" xml:space="preserve">8.43,</text>
<text x="165.3" y="24.4" style="fill:#ff0000" textLength="33.6" lengthAdjust="spacing" xml:space="preserve">Res-2</text>
<text x="202.2" y="24.4" xml:space="preserve">=</text>
<text x="212.3" y="24.4" textLength="25.1" lengthAdjust="spacing" xml:space="preserve">8.43,</text>
<text x="241" y="24.4" style="fill:#0000ff" textLength="33.9" lengthAdjust="spacing" xml:space="preserve">Sup-1</text>
<text x="278.5" y="24.4" xml:space="preserve">=</text>
<text x="288.5" y="24.4" textLength="25.1" lengthAdjust="spacing" xml:space="preserve">6.40,</text>
<text x="317.3" y="24.4" style="fill:#009400" textLength="34.3" lengthAdjust="spacing" xml:space="preserve">Sup-2</text>
<text x="354.2" y="24.4" xml:space="preserve">=</text>
<text x="364.8" y="24.4" textLength="23.1" lengthAdjust="spacing" xml:space="preserve">4.41</text>
<text x="10.5" y="324.5" textLength="32.4" lengthAdjust="spacing" xml:space="preserve">GLUE</text>
<text x="45.5" y="324.5" xml:space="preserve">-</text>
<text x="53.5" y="324.5" style="fill:#ff0000" textLength="22.9" lengthAdjust="spacing" xml:space="preserve">Line</text>
<text x="80.2" y="324.5" xml:space="preserve">=</text>
<text x="90.3" y="324.5" textLength="33.3" lengthAdjust="spacing" xml:space="preserve">82.34,</text>
<text x="126.8" y="324.5" textLength="21.1" lengthAdjust="spacing" xml:space="preserve">Top</text>
<text x="151.2" y="324.5" xml:space="preserve">=</text>
<text x="161.8" y="324.5" textLength="33.1" lengthAdjust="spacing" xml:space="preserve">84.77,</text>
<text x="198.5" y="324.5" textLength="37.4" lengthAdjust="spacing" xml:space="preserve">Bottom</text>
<text x="240.2" y="324.5" xml:space="preserve">=</text>
<text x="251" y="324.5" textLength="32.6" lengthAdjust="spacing" xml:space="preserve">18.14,</text>
<text x="287.3" y="324.5" style="fill:#0000ff" textLength="34.9" lengthAdjust="spacing" xml:space="preserve">Signal</text>
<text x="325.2" y="324.5" xml:space="preserve">=</text>
<text x="336" y="324.5" textLength="29.9" lengthAdjust="spacing" xml:space="preserve">75.64</text>
<text x="10.5" y="421.7" textLength="32.4" lengthAdjust="spacing" xml:space="preserve">GLUE</text>
<text x="45.5" y="421.7" xml:space="preserve">-</text>
<text x="53.5" y="421.7" textLength="26.9" lengthAdjust="spacing" xml:space="preserve">Daily</text>
<text x="83.5" y="421.7" textLength="63.9" lengthAdjust="spacing" xml:space="preserve">2025-10-10</text>
<text x="151" y="421.7" textLength="27.9" lengthAdjust="spacing" xml:space="preserve">Open</text>
<text x="182.7" y="421.7" textLength="38.7" lengthAdjust="spacing" xml:space="preserve">8.58,Hi</text>
<text x="226.8" y="421.7" textLength="45.6" lengthAdjust="spacing" xml:space="preserve">10.22,Lo</text>
<text x="276.8" y="421.7" textLength="33.1" lengthAdjust="spacing" xml:space="preserve">8.525,</text>
<text x="313.5" y="421.7" textLength="32.4" lengthAdjust="spacing" xml:space="preserve">Close</text>
<text x="351" y="421.7" textLength="28.9" lengthAdjust="spacing" xml:space="preserve">10.04</text>
<text x="383.5" y="421.7" textLength="43.7" lengthAdjust="spacing" xml:space="preserve">(18.7%)</text>
<text x="10.3" y="435.3" textLength="15.6" lengthAdjust="spacing" xml:space="preserve">Vol</text>
<text x="30.3" y="435.3" textLength="68.6" lengthAdjust="spacing" xml:space="preserve">616,656,128</text>
<text x="102.3" y="435.3" style="fill:#ff0000" textLength="21.1" lengthAdjust="spacing" xml:space="preserve">Top</text>
<text x="126.5" y="435.3" xml:space="preserve">=</text>
<text x="136.8" y="435.3" textLength="24.1" lengthAdjust="spacing" xml:space="preserve">7.70,</text>
<text x="166" y="435.3" style="fill:#009400" textLength="38.6" lengthAdjust="spacing" xml:space="preserve">Bottom</text>
<text x="208.5" y="435.3" xml:space="preserve">=</text>
<text x="217.8" y="435.3" textLength="24.4" lengthAdjust="spacing" xml:space="preserve">4.15,</text>
<text x="246" y="435.3" style="fill:#0000ff" textLength="32.9" lengthAdjust="spacing" xml:space="preserve">Trend</text>
<text x="282.7" y="435.3" xml:space="preserve">=</text>
<text x="293.5" y="435.3" textLength="23.7" lengthAdjust="spacing" xml:space="preserve">8.47</text>
<rect x="4" y="430" width="6" height="3" fill="#ff0000" shape-rendering="crispEdges"/>
</svg></body></html>
